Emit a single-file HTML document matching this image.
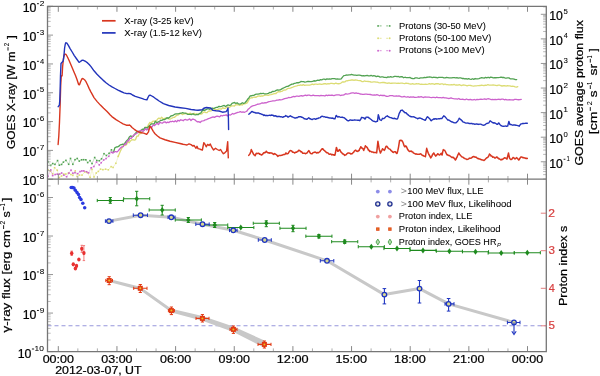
<!DOCTYPE html><html><head><meta charset="utf-8"><style>html,body{margin:0;padding:0;background:#fff;overflow:hidden}svg{display:block;filter:blur(0.35px)}text{font-family:"Liberation Sans",sans-serif}</style></head><body><svg width="600" height="376" viewBox="0 0 600 376" font-family="Liberation Sans, sans-serif">
<rect width="600" height="376" fill="#fff"/>
<defs><clipPath id="cT"><rect x="47.5" y="6.3" width="498.8" height="172.9"/></clipPath><clipPath id="cB"><rect x="47.5" y="179.2" width="498.8" height="172.4"/></clipPath></defs>
<g clip-path="url(#cT)">
<polyline points="48.00,169.89 50.34,171.24 52.75,173.83 54.61,167.73 57.25,170.22 59.29,177.61 61.56,176.05 63.83,174.11 65.78,174.09 68.45,173.01 70.99,174.53 72.86,175.42 75.25,170.88 77.08,176.55 79.35,175.11 82.03,175.10 84.75,171.95 87.35,172.68 90.09,177.26 91.98,169.26 94.00,176.95 96.24,173.02 98.34,171.40 100.52,169.12 102.91,169.66 105.61,169.17 108.34,169.83 111.13,166.65 113.10,167.44 115.86,163.28 118.23,156.37" fill="none" stroke="#dcdc74" stroke-width="0.6" stroke-linejoin="round" stroke-linecap="round" stroke-dasharray="1.4 1.0" opacity="0.6"/>
<rect x="47.20" y="169.09" width="1.6" height="1.6" fill="#dcdc74"/>
<rect x="49.54" y="170.44" width="1.6" height="1.6" fill="#dcdc74"/>
<rect x="51.95" y="173.03" width="1.6" height="1.6" fill="#dcdc74"/>
<rect x="53.81" y="166.93" width="1.6" height="1.6" fill="#dcdc74"/>
<rect x="56.45" y="169.42" width="1.6" height="1.6" fill="#dcdc74"/>
<rect x="58.49" y="176.81" width="1.6" height="1.6" fill="#dcdc74"/>
<rect x="60.76" y="175.25" width="1.6" height="1.6" fill="#dcdc74"/>
<rect x="63.03" y="173.31" width="1.6" height="1.6" fill="#dcdc74"/>
<rect x="64.98" y="173.29" width="1.6" height="1.6" fill="#dcdc74"/>
<rect x="67.65" y="172.21" width="1.6" height="1.6" fill="#dcdc74"/>
<rect x="70.19" y="173.73" width="1.6" height="1.6" fill="#dcdc74"/>
<rect x="72.06" y="174.62" width="1.6" height="1.6" fill="#dcdc74"/>
<rect x="74.45" y="170.08" width="1.6" height="1.6" fill="#dcdc74"/>
<rect x="76.28" y="175.75" width="1.6" height="1.6" fill="#dcdc74"/>
<rect x="78.55" y="174.31" width="1.6" height="1.6" fill="#dcdc74"/>
<rect x="81.23" y="174.30" width="1.6" height="1.6" fill="#dcdc74"/>
<rect x="83.95" y="171.15" width="1.6" height="1.6" fill="#dcdc74"/>
<rect x="86.55" y="171.88" width="1.6" height="1.6" fill="#dcdc74"/>
<rect x="89.29" y="176.46" width="1.6" height="1.6" fill="#dcdc74"/>
<rect x="91.18" y="168.46" width="1.6" height="1.6" fill="#dcdc74"/>
<rect x="93.20" y="176.15" width="1.6" height="1.6" fill="#dcdc74"/>
<rect x="95.44" y="172.22" width="1.6" height="1.6" fill="#dcdc74"/>
<rect x="97.54" y="170.60" width="1.6" height="1.6" fill="#dcdc74"/>
<rect x="99.72" y="168.32" width="1.6" height="1.6" fill="#dcdc74"/>
<rect x="102.11" y="168.86" width="1.6" height="1.6" fill="#dcdc74"/>
<rect x="104.81" y="168.37" width="1.6" height="1.6" fill="#dcdc74"/>
<rect x="107.54" y="169.03" width="1.6" height="1.6" fill="#dcdc74"/>
<rect x="110.33" y="165.85" width="1.6" height="1.6" fill="#dcdc74"/>
<rect x="112.30" y="166.64" width="1.6" height="1.6" fill="#dcdc74"/>
<rect x="115.06" y="162.48" width="1.6" height="1.6" fill="#dcdc74"/>
<rect x="117.43" y="155.57" width="1.6" height="1.6" fill="#dcdc74"/>
<polyline points="118.23,156.37 120.00,151.99 121.30,149.33 122.60,146.60 123.90,144.58 125.20,145.51 126.50,144.75 127.80,141.45 129.10,142.70 130.40,141.09 131.70,139.81 133.00,139.59 134.30,140.22 135.60,139.55 136.90,136.04 138.20,136.17 139.50,133.34 140.80,133.61 142.10,131.04 143.40,130.91 144.70,129.61 146.00,127.11 147.30,127.23 148.60,124.27 149.90,122.49 151.20,123.28 152.50,121.28 153.80,121.19 155.10,121.11 156.40,120.88 157.70,118.94 159.00,117.89 160.30,118.91 161.60,117.26 162.90,118.45 164.20,118.59 165.50,117.99 166.80,118.36 168.10,118.69 169.40,119.12 170.70,118.79 172.00,118.05 173.30,117.48 174.60,117.31 175.90,115.94 177.20,115.15 178.50,114.93 179.80,113.48 181.10,113.49 182.40,114.59 183.70,113.87 185.00,113.93 186.30,113.08 187.60,113.74 188.90,114.02 190.20,113.13 191.50,114.10 192.80,114.14 194.10,113.24 195.40,114.16 196.70,113.91 198.00,114.27 199.30,113.76 200.60,114.15 201.90,113.81 203.20,112.28 204.50,111.95 205.80,112.54 207.10,112.61 208.40,111.08 209.70,111.02 211.00,110.95 212.30,110.25 213.60,110.06 214.90,109.72 216.20,109.55 217.50,109.65 218.80,108.92 220.10,108.78 221.40,109.16 222.70,107.70 224.00,108.31 225.30,108.32 226.60,107.38 227.90,106.98 229.20,107.65 230.50,106.43 231.80,105.96 233.10,105.97 234.40,106.00 235.70,104.76 237.00,104.92 238.30,104.74 239.60,105.34 240.90,104.52 242.20,104.99 243.50,103.70 244.80,103.77 246.10,103.42 247.40,102.58 248.70,100.16 250.00,98.25 251.30,97.77 252.60,97.75 253.90,97.05 255.20,97.24 256.50,97.00 257.80,96.16 259.10,95.98 260.40,96.24 261.70,95.96 263.00,95.98 264.30,95.43 265.60,95.11 266.90,95.12 268.20,95.44 269.50,94.84 270.80,94.62 272.10,94.30 273.40,93.91 274.70,93.51 276.00,93.48 277.30,92.27 278.60,91.61 279.90,91.94 281.20,91.40 282.50,91.01 283.80,90.03 285.10,90.02 286.40,89.52 287.70,88.40 289.00,88.39 290.30,88.03 291.60,87.53 292.90,87.06 294.20,86.52 295.50,86.23 296.80,85.79 298.10,85.31 299.40,85.44 300.70,84.97 302.00,85.38 303.30,84.63 304.60,85.33 305.90,85.08 307.20,85.22 308.50,85.13 309.80,85.07 311.10,84.70 312.40,84.12 313.70,84.70 315.00,84.10 316.30,84.14 317.60,84.39 318.90,84.19 320.20,84.01 321.50,84.42 322.80,84.06 324.10,83.75 325.40,83.61 326.70,84.09 328.00,83.68 329.30,83.89 330.60,83.45 331.90,83.27 333.20,83.54 334.50,83.75 335.80,83.13 337.10,83.65 338.40,83.73 339.70,83.58 341.00,83.16 342.30,81.86 343.60,81.98 344.90,81.89 346.20,80.86 347.50,80.77 348.80,80.47 350.10,80.40 351.40,79.98 352.70,79.97 354.00,80.42 355.30,79.91 356.60,80.13 357.90,80.38 359.20,80.55 360.50,80.65 361.80,81.57 363.10,81.57 364.40,80.98 365.70,81.46 367.00,81.39 368.30,81.50 369.60,81.63 370.90,82.00 372.20,82.05 373.50,81.95 374.80,81.91 376.10,82.13 377.40,82.05 378.70,82.55 380.00,82.79 381.30,82.56 382.60,82.35 383.90,82.51 385.20,82.75 386.50,83.02 387.80,83.24 389.10,82.95 390.40,83.38 391.70,83.23 393.00,83.07 394.30,83.03 395.60,83.15 396.90,83.35 398.20,83.11 399.50,83.37 400.80,83.20 402.10,83.07 403.40,83.39 404.70,83.59 406.00,83.08 407.30,83.46 408.60,83.52 409.90,83.99 411.20,84.10 412.50,83.65 413.80,84.18 415.10,84.14 416.40,83.72 417.70,83.96 419.00,83.72 420.30,84.38 421.60,84.25 422.90,84.45 424.20,84.36 425.50,84.25 426.80,84.31 428.10,84.16 429.40,83.74 430.70,84.18 432.00,83.65 433.30,83.78 434.60,84.35 435.90,83.69 437.20,83.73 438.50,83.74 439.80,84.44 441.10,83.86 442.40,83.78 443.70,84.57 445.00,83.98 446.30,84.69 447.60,84.60 448.90,84.80 450.20,84.97 451.50,84.69 452.80,84.94 454.10,84.32 455.40,85.03 456.70,84.86 458.00,85.10 459.30,84.61 460.60,85.26 461.90,85.52 463.20,84.82 464.50,85.14 465.80,85.44 467.10,85.77 468.40,85.33 469.70,85.36 471.00,85.51 472.30,85.92 473.60,86.13 474.90,85.90 476.20,85.78 477.50,85.71 478.80,85.56 480.10,85.52 481.40,85.11 482.70,85.38 484.00,85.71 485.30,85.10 486.60,85.29 487.90,84.66 489.20,85.04 490.50,85.06 491.80,85.08 493.10,85.02 494.40,85.08 495.70,85.31 497.00,85.62 498.30,85.04 499.60,85.08 500.90,85.75 502.20,85.99 503.50,85.72 504.80,85.74 506.10,86.09 507.40,85.71 508.70,85.89 510.00,85.93 511.30,86.39 512.60,86.25 513.90,86.28 515.20,86.80 516.50,87.14 517.80,86.65" fill="none" stroke="#dcdc74" stroke-width="1.3" stroke-linejoin="round" stroke-linecap="round" />
<polyline points="48.00,161.62 50.65,165.44 52.70,163.55 54.95,164.37 57.54,160.60 59.37,165.20 61.60,164.44 63.40,162.14 65.93,160.38 68.67,164.27 70.50,158.46 72.84,164.31 75.02,159.69 77.25,158.49 79.27,161.10 81.56,159.79 83.59,159.70 85.85,159.80 87.68,162.56 90.03,160.66 92.02,163.58 94.68,157.53 96.81,160.53 99.32,160.73 101.54,158.85 104.01,153.70 106.40,155.48 109.05,153.34 111.44,149.85 113.48,152.19" fill="none" stroke="#52a252" stroke-width="0.6" stroke-linejoin="round" stroke-linecap="round" stroke-dasharray="1.4 1.0" opacity="0.6"/>
<rect x="47.20" y="160.82" width="1.6" height="1.6" fill="#52a252"/>
<rect x="49.85" y="164.64" width="1.6" height="1.6" fill="#52a252"/>
<rect x="51.90" y="162.75" width="1.6" height="1.6" fill="#52a252"/>
<rect x="54.15" y="163.57" width="1.6" height="1.6" fill="#52a252"/>
<rect x="56.74" y="159.80" width="1.6" height="1.6" fill="#52a252"/>
<rect x="58.57" y="164.40" width="1.6" height="1.6" fill="#52a252"/>
<rect x="60.80" y="163.64" width="1.6" height="1.6" fill="#52a252"/>
<rect x="62.60" y="161.34" width="1.6" height="1.6" fill="#52a252"/>
<rect x="65.13" y="159.58" width="1.6" height="1.6" fill="#52a252"/>
<rect x="67.87" y="163.47" width="1.6" height="1.6" fill="#52a252"/>
<rect x="69.70" y="157.66" width="1.6" height="1.6" fill="#52a252"/>
<rect x="72.04" y="163.51" width="1.6" height="1.6" fill="#52a252"/>
<rect x="74.22" y="158.89" width="1.6" height="1.6" fill="#52a252"/>
<rect x="76.45" y="157.69" width="1.6" height="1.6" fill="#52a252"/>
<rect x="78.47" y="160.30" width="1.6" height="1.6" fill="#52a252"/>
<rect x="80.76" y="158.99" width="1.6" height="1.6" fill="#52a252"/>
<rect x="82.79" y="158.90" width="1.6" height="1.6" fill="#52a252"/>
<rect x="85.05" y="159.00" width="1.6" height="1.6" fill="#52a252"/>
<rect x="86.88" y="161.76" width="1.6" height="1.6" fill="#52a252"/>
<rect x="89.23" y="159.86" width="1.6" height="1.6" fill="#52a252"/>
<rect x="91.22" y="162.78" width="1.6" height="1.6" fill="#52a252"/>
<rect x="93.88" y="156.73" width="1.6" height="1.6" fill="#52a252"/>
<rect x="96.01" y="159.73" width="1.6" height="1.6" fill="#52a252"/>
<rect x="98.52" y="159.93" width="1.6" height="1.6" fill="#52a252"/>
<rect x="100.74" y="158.05" width="1.6" height="1.6" fill="#52a252"/>
<rect x="103.21" y="152.90" width="1.6" height="1.6" fill="#52a252"/>
<rect x="105.60" y="154.68" width="1.6" height="1.6" fill="#52a252"/>
<rect x="108.25" y="152.54" width="1.6" height="1.6" fill="#52a252"/>
<rect x="110.64" y="149.05" width="1.6" height="1.6" fill="#52a252"/>
<rect x="112.68" y="151.39" width="1.6" height="1.6" fill="#52a252"/>
<polyline points="113.48,152.19 115.00,147.54 116.30,146.98 117.60,146.82 118.90,146.19 120.20,144.86 121.50,144.55 122.80,144.24 124.10,144.46 125.40,142.43 126.70,140.66 128.00,139.47 129.30,137.08 130.60,135.92 131.90,136.49 133.20,136.33 134.50,134.42 135.80,133.00 137.10,131.53 138.40,131.50 139.70,131.85 141.00,130.41 142.30,129.23 143.60,129.57 144.90,127.45 146.20,127.67 147.50,128.00 148.80,126.21 150.10,125.09 151.40,123.85 152.70,123.92 154.00,124.34 155.30,121.21 156.60,122.61 157.90,122.08 159.20,121.63 160.50,120.38 161.80,120.32 163.10,119.68 164.40,119.58 165.70,118.93 167.00,117.69 168.30,118.34 169.60,117.21 170.90,115.95 172.20,115.76 173.50,115.06 174.80,114.17 176.10,113.81 177.40,113.83 178.70,113.68 180.00,113.38 181.30,113.22 182.60,112.62 183.90,113.03 185.20,113.03 186.50,113.77 187.80,114.30 189.10,114.28 190.40,114.37 191.70,114.49 193.00,113.68 194.30,114.70 195.60,114.78 196.90,114.48 198.20,114.71 199.50,113.33 200.80,113.14 202.10,110.95 203.40,109.71 204.70,110.31 206.00,109.64 207.30,108.97 208.60,108.90 209.90,109.26 211.20,108.38 212.50,108.24 213.80,108.63 215.10,107.90 216.40,107.38 217.70,107.31 219.00,106.28 220.30,106.56 221.60,106.39 222.90,105.78 224.20,105.42 225.50,106.45 226.80,105.59 228.10,104.88 229.40,105.28 230.70,105.21 232.00,103.39 233.30,102.84 234.60,102.50 235.90,103.43 237.20,102.80 238.50,103.93 239.80,104.15 241.10,103.62 242.40,102.68 243.70,103.48 245.00,102.78 246.30,101.29 247.60,99.30 248.90,97.94 250.20,95.87 251.50,95.77 252.80,95.28 254.10,95.24 255.40,94.36 256.70,94.10 258.00,94.22 259.30,93.98 260.60,93.30 261.90,93.64 263.20,93.25 264.50,93.95 265.80,93.87 267.10,93.66 268.40,93.38 269.70,92.51 271.00,92.70 272.30,91.37 273.60,91.50 274.90,91.06 276.20,90.42 277.50,89.80 278.80,90.17 280.10,89.98 281.40,89.17 282.70,88.42 284.00,87.73 285.30,87.14 286.60,86.46 287.90,86.34 289.20,85.58 290.50,84.81 291.80,84.19 293.10,84.15 294.40,83.27 295.70,83.03 297.00,82.56 298.30,82.74 299.60,82.46 300.90,81.52 302.20,81.62 303.50,81.67 304.80,82.20 306.10,81.95 307.40,81.49 308.70,81.31 310.00,81.66 311.30,81.60 312.60,81.47 313.90,80.74 315.20,81.01 316.50,80.63 317.80,80.24 319.10,80.48 320.40,79.62 321.70,79.92 323.00,79.20 324.30,79.13 325.60,79.65 326.90,78.88 328.20,79.23 329.50,78.95 330.80,79.11 332.10,78.68 333.40,78.66 334.70,78.61 336.00,79.13 337.30,78.89 338.60,79.21 339.90,79.15 341.20,78.93 342.50,77.10 343.80,75.68 345.10,75.37 346.40,75.02 347.70,75.08 349.00,74.86 350.30,74.90 351.60,74.46 352.90,74.85 354.20,75.22 355.50,75.04 356.80,75.34 358.10,75.16 359.40,75.16 360.70,75.39 362.00,75.95 363.30,75.66 364.60,75.98 365.90,75.56 367.20,75.40 368.50,75.86 369.80,75.89 371.10,75.29 372.40,76.04 373.70,75.68 375.00,75.85 376.30,76.68 377.60,76.05 378.90,76.36 380.20,77.18 381.50,76.96 382.80,76.97 384.10,77.30 385.40,77.48 386.70,77.65 388.00,76.78 389.30,77.22 390.60,76.57 391.90,77.05 393.20,76.94 394.50,76.33 395.80,76.36 397.10,76.69 398.40,76.48 399.70,77.11 401.00,76.67 402.30,76.76 403.60,77.75 404.90,77.24 406.20,77.62 407.50,77.60 408.80,77.59 410.10,77.48 411.40,78.36 412.70,78.52 414.00,78.64 415.30,77.93 416.60,77.93 417.90,78.19 419.20,78.42 420.50,77.94 421.80,77.97 423.10,77.85 424.40,77.39 425.70,77.55 427.00,77.25 428.30,77.10 429.60,76.85 430.90,77.03 432.20,77.69 433.50,77.25 434.80,77.46 436.10,77.49 437.40,77.79 438.70,77.33 440.00,77.29 441.30,77.35 442.60,77.37 443.90,77.88 445.20,77.96 446.50,77.48 447.80,77.56 449.10,77.80 450.40,77.89 451.70,77.95 453.00,77.69 454.30,77.54 455.60,77.79 456.90,77.69 458.20,78.17 459.50,77.79 460.80,77.88 462.10,78.50 463.40,78.30 464.70,78.85 466.00,78.69 467.30,79.13 468.60,78.61 469.90,79.03 471.20,79.40 472.50,78.76 473.80,79.38 475.10,78.52 476.40,78.91 477.70,78.93 479.00,78.63 480.30,78.02 481.60,77.66 482.90,77.87 484.20,78.08 485.50,77.40 486.80,77.92 488.10,77.22 489.40,77.88 490.70,77.06 492.00,77.29 493.30,77.80 494.60,77.68 495.90,77.75 497.20,77.66 498.50,77.55 499.80,77.47 501.10,77.13 502.40,77.50 503.70,77.40 505.00,78.04 506.30,78.14 507.60,77.91 508.90,77.89 510.20,78.85 511.50,78.94 512.80,78.94 514.10,79.16 515.40,79.67 516.70,79.54" fill="none" stroke="#52a252" stroke-width="1.3" stroke-linejoin="round" stroke-linecap="round" />
<polyline points="48.00,176.30 50.75,169.94 52.63,175.62 55.17,174.53 57.28,174.15 59.68,174.07 61.64,173.00 63.84,175.11 66.63,176.74 68.97,173.10 71.04,170.16 72.87,173.25 74.99,172.64 77.68,173.69 80.04,171.57 81.86,170.94 83.80,170.91 86.60,171.74 88.58,172.86 91.18,167.82 93.89,166.48 96.48,162.08 99.26,164.88 101.22,162.74 103.73,159.99 106.06,158.56 108.79,156.31 111.42,152.23" fill="none" stroke="#cc62cc" stroke-width="0.6" stroke-linejoin="round" stroke-linecap="round" stroke-dasharray="1.4 1.0" opacity="0.6"/>
<rect x="47.20" y="175.50" width="1.6" height="1.6" fill="#cc62cc"/>
<rect x="49.95" y="169.14" width="1.6" height="1.6" fill="#cc62cc"/>
<rect x="51.83" y="174.82" width="1.6" height="1.6" fill="#cc62cc"/>
<rect x="54.37" y="173.73" width="1.6" height="1.6" fill="#cc62cc"/>
<rect x="56.48" y="173.35" width="1.6" height="1.6" fill="#cc62cc"/>
<rect x="58.88" y="173.27" width="1.6" height="1.6" fill="#cc62cc"/>
<rect x="60.84" y="172.20" width="1.6" height="1.6" fill="#cc62cc"/>
<rect x="63.04" y="174.31" width="1.6" height="1.6" fill="#cc62cc"/>
<rect x="65.83" y="175.94" width="1.6" height="1.6" fill="#cc62cc"/>
<rect x="68.17" y="172.30" width="1.6" height="1.6" fill="#cc62cc"/>
<rect x="70.24" y="169.36" width="1.6" height="1.6" fill="#cc62cc"/>
<rect x="72.07" y="172.45" width="1.6" height="1.6" fill="#cc62cc"/>
<rect x="74.19" y="171.84" width="1.6" height="1.6" fill="#cc62cc"/>
<rect x="76.88" y="172.89" width="1.6" height="1.6" fill="#cc62cc"/>
<rect x="79.24" y="170.77" width="1.6" height="1.6" fill="#cc62cc"/>
<rect x="81.06" y="170.14" width="1.6" height="1.6" fill="#cc62cc"/>
<rect x="83.00" y="170.11" width="1.6" height="1.6" fill="#cc62cc"/>
<rect x="85.80" y="170.94" width="1.6" height="1.6" fill="#cc62cc"/>
<rect x="87.78" y="172.06" width="1.6" height="1.6" fill="#cc62cc"/>
<rect x="90.38" y="167.02" width="1.6" height="1.6" fill="#cc62cc"/>
<rect x="93.09" y="165.68" width="1.6" height="1.6" fill="#cc62cc"/>
<rect x="95.68" y="161.28" width="1.6" height="1.6" fill="#cc62cc"/>
<rect x="98.46" y="164.08" width="1.6" height="1.6" fill="#cc62cc"/>
<rect x="100.42" y="161.94" width="1.6" height="1.6" fill="#cc62cc"/>
<rect x="102.93" y="159.19" width="1.6" height="1.6" fill="#cc62cc"/>
<rect x="105.26" y="157.76" width="1.6" height="1.6" fill="#cc62cc"/>
<rect x="107.99" y="155.51" width="1.6" height="1.6" fill="#cc62cc"/>
<rect x="110.62" y="151.43" width="1.6" height="1.6" fill="#cc62cc"/>
<polyline points="111.42,152.23 113.00,153.12 114.30,151.67 115.60,151.53 116.90,152.00 118.20,150.88 119.50,149.27 120.80,147.59 122.10,146.85 123.40,146.56 124.70,143.92 126.00,144.27 127.30,140.85 128.60,140.95 129.90,138.05 131.20,138.40 132.50,136.64 133.80,135.14 135.10,134.20 136.40,133.57 137.70,132.73 139.00,131.36 140.30,130.44 141.60,130.66 142.90,131.43 144.20,130.30 145.50,128.55 146.80,129.98 148.10,129.09 149.40,128.91 150.70,126.40 152.00,127.19 153.30,124.75 154.60,125.65 155.90,124.04 157.20,123.43 158.50,124.63 159.80,122.14 161.10,122.86 162.40,123.21 163.70,122.07 165.00,121.84 166.30,122.88 167.60,122.12 168.90,122.57 170.20,121.42 171.50,121.74 172.80,121.23 174.10,121.82 175.40,120.67 176.70,121.86 178.00,120.16 179.30,121.08 180.60,119.77 181.90,120.02 183.20,120.78 184.50,119.60 185.80,119.51 187.10,120.20 188.40,119.58 189.70,118.90 191.00,120.48 192.30,119.27 193.60,119.22 194.90,119.84 196.20,120.96 197.50,121.89 198.80,121.61 200.10,122.57 201.40,121.20 202.70,120.98 204.00,120.61 205.30,119.77 206.60,119.54 207.90,118.81 209.20,118.48 210.50,117.87 211.80,117.34 213.10,116.79 214.40,117.33 215.70,116.59 217.00,116.04 218.30,116.39 219.60,116.86 220.90,115.46 222.20,115.98 223.50,115.47 224.80,115.46 226.10,114.74 227.40,115.94 228.70,114.72 230.00,115.17 231.30,114.51 232.60,113.51 233.90,114.02 235.20,113.36 236.50,112.81 237.80,112.36 239.10,112.15 240.40,111.67 241.70,112.28 243.00,111.81 244.30,112.31 245.60,111.77 246.90,111.18 248.20,109.16 249.50,108.14 250.80,106.84 252.10,106.15 253.40,105.70 254.70,105.38 256.00,104.97 257.30,104.27 258.60,104.14 259.90,103.95 261.20,103.21 262.50,102.98 263.80,103.06 265.10,102.53 266.40,102.79 267.70,102.07 269.00,101.66 270.30,101.45 271.60,101.21 272.90,100.91 274.20,100.89 275.50,100.57 276.80,100.17 278.10,100.21 279.40,99.56 280.70,99.91 282.00,99.68 283.30,99.18 284.60,98.63 285.90,98.43 287.20,98.23 288.50,97.50 289.80,97.57 291.10,97.38 292.40,96.79 293.70,96.42 295.00,96.77 296.30,96.22 297.60,96.21 298.90,96.41 300.20,95.99 301.50,95.62 302.80,96.17 304.10,95.54 305.40,95.14 306.70,95.66 308.00,95.06 309.30,95.17 310.60,95.64 311.90,95.57 313.20,95.06 314.50,95.53 315.80,95.57 317.10,95.71 318.40,95.54 319.70,95.96 321.00,95.46 322.30,95.57 323.60,95.57 324.90,96.00 326.20,95.15 327.50,95.68 328.80,95.10 330.10,95.36 331.40,95.20 332.70,95.27 334.00,95.53 335.30,95.21 336.60,94.96 337.90,94.96 339.20,94.92 340.50,95.52 341.80,95.07 343.10,95.09 344.40,94.59 345.70,93.73 347.00,94.04 348.30,93.89 349.60,93.58 350.90,93.12 352.20,92.78 353.50,92.95 354.80,93.34 356.10,92.94 357.40,93.28 358.70,93.41 360.00,94.02 361.30,94.07 362.60,94.36 363.90,94.45 365.20,94.13 366.50,94.13 367.80,94.43 369.10,94.29 370.40,94.50 371.70,94.80 373.00,95.08 374.30,94.84 375.60,95.15 376.90,94.65 378.20,95.02 379.50,95.74 380.80,95.12 382.10,95.51 383.40,95.33 384.70,95.49 386.00,96.26 387.30,96.34 388.60,96.03 389.90,95.57 391.20,95.72 392.50,95.66 393.80,96.05 395.10,96.07 396.40,95.98 397.70,96.19 399.00,95.95 400.30,96.47 401.60,96.96 402.90,96.92 404.20,96.46 405.50,96.92 406.80,97.12 408.10,96.72 409.40,97.31 410.70,96.94 412.00,97.18 413.30,96.92 414.60,97.47 415.90,97.30 417.20,97.13 418.50,96.76 419.80,97.04 421.10,96.69 422.40,97.22 423.70,97.50 425.00,96.89 426.30,97.20 427.60,97.20 428.90,97.15 430.20,97.44 431.50,97.67 432.80,97.48 434.10,97.29 435.40,97.75 436.70,97.20 438.00,97.59 439.30,97.53 440.60,97.68 441.90,97.87 443.20,97.41 444.50,97.87 445.80,97.78 447.10,98.12 448.40,98.50 449.70,98.30 451.00,97.84 452.30,98.35 453.60,98.68 454.90,98.94 456.20,98.83 457.50,99.08 458.80,98.47 460.10,99.40 461.40,99.28 462.70,99.24 464.00,99.58 465.30,99.63 466.60,98.99 467.90,99.71 469.20,99.73 470.50,99.29 471.80,99.85 473.10,99.78 474.40,99.49 475.70,100.02 477.00,99.33 478.30,99.67 479.60,99.42 480.90,99.17 482.20,99.36 483.50,99.18 484.80,98.85 486.10,99.55 487.40,98.78 488.70,98.75 490.00,99.22 491.30,99.57 492.60,99.45 493.90,99.57 495.20,99.36 496.50,99.56 497.80,99.29 499.10,99.27 500.40,99.51 501.70,99.10 503.00,99.16 504.30,99.79 505.60,99.29 506.90,99.82 508.20,99.87 509.50,99.55 510.80,99.81 512.10,99.93 513.40,100.02 514.70,99.38 516.00,99.42 517.30,99.64 518.60,99.73 519.90,99.60 521.20,99.36" fill="none" stroke="#cc62cc" stroke-width="1.3" stroke-linejoin="round" stroke-linecap="round" />
<polyline points="58.10,144.50 58.80,136.00 59.50,122.00 60.10,106.00 60.70,86.00 61.20,77.00 61.70,75.50 62.10,75.80 62.60,67.00 63.20,61.00 63.70,57.00 64.40,54.60 65.00,54.20 65.70,54.30 66.40,55.00 67.70,57.50 69.00,60.30 70.60,64.00 72.20,67.80 74.30,72.70 75.40,75.20 77.00,79.50 78.60,84.50 79.50,84.80 80.50,82.00 81.80,79.00 82.90,78.50 84.50,79.70 86.00,81.70 87.60,85.00 89.20,88.60 91.00,92.10 92.80,95.40 94.00,97.60 97.20,101.60 100.40,105.10 103.60,108.30 106.80,111.30 108.70,113.30 110.00,114.80 111.90,116.60 116.00,119.60 119.90,122.00 123.00,123.80 126.30,125.20 128.50,125.30 129.50,125.00 130.50,125.80 132.00,127.50 134.30,129.30 136.50,130.80 139.00,132.00 141.50,132.80 143.70,133.10 146.70,134.30 148.50,131.90 149.70,126.50 150.90,127.10 153.30,131.30 155.00,133.75 157.50,136.00 160.00,137.90 165.00,139.75 170.00,141.25 175.00,142.40 180.00,143.50 183.00,144.25 185.00,144.60 187.00,145.00 189.00,143.90 191.00,144.60 193.00,146.10 194.00,145.40 195.00,146.90 196.00,148.20 197.00,146.30 198.00,148.60 200.00,149.10 200.60,149.50 202.40,150.00 203.80,142.60 204.80,144.00 206.20,146.80 207.60,144.40 209.00,145.40 210.30,144.00 211.70,147.20 213.60,150.00 215.50,148.20 217.30,149.50 219.20,150.50 220.60,149.50 222.00,151.90 223.40,153.70 224.80,152.80 226.60,150.90 227.70,141.60 228.30,157.90" fill="none" stroke="#d8361f" stroke-width="1.4" stroke-linejoin="round" stroke-linecap="round" />
<polyline points="248.75,155.35 248.75,155.40 249.75,154.14 250.00,153.75 250.75,151.68 251.25,149.60 251.75,150.57 252.50,152.10 252.75,152.61 253.75,154.69 253.75,154.60 254.75,155.24 255.00,155.80 255.75,154.31 256.25,153.30 256.75,153.43 257.75,153.59 257.90,153.30 258.75,153.34 259.60,154.20 259.75,154.08 260.75,154.35 261.25,155.00 261.75,154.93 262.75,154.06 262.90,153.75 263.75,152.67 264.60,152.50 264.75,152.87 265.75,152.09 266.25,151.25 266.75,151.90 267.50,152.50 267.75,152.73 268.75,152.75 269.20,153.30 269.75,152.68 270.75,152.94 270.80,152.90 271.75,152.93 272.50,153.75 272.75,153.61 273.75,154.34 273.75,154.60 274.75,153.45 275.00,153.75 275.75,154.27 276.70,155.00 276.75,154.99 277.75,156.44 277.90,156.25 278.75,155.71 279.20,155.40 279.75,155.54 280.75,155.40 280.80,155.40 281.75,155.34 282.50,155.00 282.75,154.90 283.75,154.48 284.20,154.60 284.75,154.51 285.75,153.45 285.80,152.90 286.75,153.86 287.10,153.75 287.75,153.71 288.30,153.30 288.75,152.32 289.20,151.70 289.75,150.93 290.40,150.60 290.75,150.59 291.75,150.96 292.10,151.60 292.75,152.18 293.75,152.29 294.60,152.80 294.75,153.07 295.75,152.13 296.75,152.23 297.10,151.60 297.75,151.61 298.75,150.24 299.20,150.50 299.75,150.50 300.75,151.74 301.25,151.60 301.75,151.97 302.75,153.29 303.30,153.25 303.75,153.24 304.75,153.13 305.40,153.70 305.75,153.61 306.75,153.14 307.50,152.40 307.75,151.89 308.75,150.61 309.00,150.75 309.75,152.12 310.00,152.80 310.75,153.59 311.75,153.81 312.10,153.70 312.75,152.92 313.75,152.42 314.20,152.40 314.75,152.11 315.75,152.26 316.25,152.80 316.75,153.10 317.75,152.48 318.30,152.80 318.75,152.54 319.75,151.72 320.00,151.60 320.75,150.25 321.75,149.42 322.10,148.70 322.75,148.76 323.30,149.50 323.75,150.09 324.75,150.57 325.00,151.20 325.75,151.83 326.70,152.80 326.75,152.53 327.75,152.87 328.30,153.25 328.75,153.95 329.75,154.28 330.00,154.10 330.75,154.08 331.70,154.50 331.75,154.90 332.75,154.47 333.30,154.90 333.75,154.79 334.75,155.25 335.00,154.90 335.75,151.02 336.40,147.40 336.75,148.21 337.30,150.50 337.75,151.30 338.30,151.20 338.75,150.36 339.60,149.60 339.75,149.62 340.75,151.89 340.80,151.70 341.75,152.67 342.50,153.75 342.75,153.74 343.75,154.31 344.60,155.40 344.75,154.92 345.75,154.93 346.25,154.60 346.75,153.83 347.75,153.16 347.90,152.90 348.75,152.93 349.75,153.21 350.00,153.30 350.75,153.92 351.75,153.66 352.10,153.75 352.75,153.05 353.75,152.15 354.20,151.25 354.75,150.64 355.75,150.08 355.80,150.40 356.75,151.28 357.50,151.25 357.75,151.44 358.75,150.37 359.20,150.40 359.75,148.82 360.75,147.06 360.80,146.70 361.75,148.03 362.50,148.30 362.75,148.34 363.75,150.45 363.75,150.00 364.75,147.84 365.40,145.80 365.75,146.25 366.75,147.07 367.10,147.50 367.75,148.46 368.30,150.00 368.75,149.87 369.75,151.53 370.00,151.25 370.75,151.24 371.75,152.05 372.50,152.10 372.75,151.90 373.75,152.62 374.75,152.56 375.00,152.50 375.75,152.47 376.70,152.90 376.75,152.09 377.75,142.93 377.90,141.25 378.75,146.02 379.20,149.20 379.75,150.72 380.40,153.10 380.75,152.40 381.25,151.25 381.75,150.60 382.50,148.75 382.75,149.11 383.75,149.74 384.20,150.40 384.75,149.70 385.75,146.97 386.25,146.25 386.75,146.27 387.75,147.52 388.30,148.30 388.75,148.62 389.75,149.08 390.75,150.03 390.80,150.40 391.75,151.07 392.75,152.11 393.30,152.50 393.75,151.96 394.75,151.81 395.40,151.70 395.75,152.42 396.75,153.45 397.10,153.30 397.75,150.75 398.30,148.30 398.75,145.76 399.60,140.40 399.75,140.51 400.75,140.26 401.70,140.80 401.75,140.41 402.75,141.96 403.30,143.30 403.75,144.89 404.60,146.70 404.75,146.79 405.75,146.30 405.80,145.80 406.75,147.22 407.50,149.20 407.75,149.64 408.75,150.69 409.20,151.25 409.75,151.48 410.75,151.07 411.70,151.25 411.75,151.80 412.75,151.91 413.30,152.90 413.75,153.10 414.75,153.63 415.75,154.13 415.80,153.75 416.75,154.16 417.75,154.30 418.30,154.20 418.75,154.37 419.75,154.23 420.00,153.75 420.75,153.98 421.70,154.60 421.75,154.81 422.75,155.53 423.30,155.40 423.75,156.05 424.75,156.21 425.40,156.70 425.75,154.73 426.70,148.30 426.75,148.82 427.75,151.65 428.30,153.30 428.75,154.25 429.75,155.85 430.75,157.89 430.80,157.90 431.75,156.40 432.75,154.18 433.75,153.04 433.75,152.90 434.75,154.81 435.75,156.11 435.80,155.80 436.75,155.10 437.75,153.78 437.90,153.75 438.75,154.61 439.60,155.00 439.75,154.93 440.75,153.76 441.25,153.30 441.75,154.64 442.10,155.00 442.75,151.66 443.30,149.60 443.75,150.17 444.75,150.15 445.00,150.80 445.75,152.40 446.75,154.28 447.10,155.00 447.75,154.85 448.75,155.51 449.20,155.40 449.75,155.77 450.75,156.57 451.70,157.10 451.75,157.54 452.75,157.27 453.75,157.41 453.75,157.90 454.75,158.97 455.40,160.00 455.75,159.58 456.75,157.40 457.10,157.10 457.75,155.12 458.75,153.31 458.75,152.90 459.75,154.58 460.40,155.40 460.75,155.63 461.75,156.88 462.50,157.10 462.75,157.09 463.75,158.09 464.75,158.28 465.00,158.75 465.75,158.88 466.70,159.20 466.75,159.49 467.75,159.24 468.75,158.84 469.20,158.30 469.75,158.10 470.75,158.14 471.70,157.90 471.75,157.68 472.75,156.82 473.75,156.50 473.75,156.50 474.75,157.06 475.75,157.29 476.00,157.00 476.75,157.71 477.75,158.62 478.75,158.61 479.00,159.00 479.75,158.92 480.75,159.53 481.75,159.69 482.00,160.00 482.75,159.90 483.75,160.35 484.00,160.50 484.75,159.88 485.75,158.74 486.00,158.50 486.75,157.75 487.75,157.53 488.00,157.00 488.75,155.98 489.50,154.00 489.75,154.29 490.75,155.24 491.00,156.00 491.75,155.91 492.75,157.25 493.00,157.00 493.75,156.92 494.75,158.08 495.00,158.00 495.75,157.70 496.75,156.93 497.00,157.00 497.75,158.04 498.75,158.27 499.00,159.00 499.75,159.01 500.75,159.83 501.00,160.00 501.75,159.15 502.75,159.45 503.00,159.00 503.75,158.36 504.75,157.77 505.00,158.00 505.75,157.92 506.75,159.00 507.00,159.00 507.75,155.95 508.50,153.00 508.75,154.38 509.50,158.00 509.75,158.41 510.75,159.56 511.00,159.50 511.75,159.21 512.75,157.93 513.00,157.50 513.75,157.76 514.75,158.79 515.00,159.00 515.75,158.30 516.75,157.64 517.00,158.00 517.75,158.72 518.75,159.96 519.00,160.00 519.75,158.55 520.75,157.15 521.00,157.00 521.75,157.03 522.75,157.63 523.00,157.50 523.75,157.71 524.75,158.05 525.00,158.00 525.75,158.42 526.75,158.27 527.30,158.50 527.30,158.50" fill="none" stroke="#d8361f" stroke-width="1.5" stroke-linejoin="round" stroke-linecap="round" />
<polyline points="58.20,106.70 59.40,105.10 59.80,100.00 60.10,91.30 60.50,75.30 61.00,63.50 62.10,62.30 63.20,60.90 63.90,56.00 64.60,48.00 65.30,44.00 65.80,42.80 66.90,43.10 68.50,45.60 70.10,48.60 72.20,52.00 74.30,55.60 76.70,59.00 79.10,62.30 80.50,61.50 81.80,60.40 82.90,60.10 84.50,60.80 86.00,61.70 87.60,62.90 89.20,64.50 91.00,66.60 94.00,70.80 97.00,74.20 100.00,77.20 103.00,80.10 106.00,82.70 109.00,85.00 112.00,86.90 115.00,88.50 118.00,90.10 121.00,91.50 124.00,92.80 126.90,93.60 128.50,93.40 130.50,93.70 132.50,95.00 135.30,96.30 138.50,97.40 142.50,98.70 144.30,99.40 146.90,99.90 148.20,97.00 149.20,95.40 150.10,95.10 151.80,96.00 153.80,97.20 156.50,99.20 159.10,101.00 163.40,103.70 168.70,105.50 175.10,107.00 180.40,107.70 185.70,108.40 191.10,109.50 195.30,110.00 198.00,110.20 202.20,109.80 203.50,108.50 204.60,108.00 206.50,107.50 208.20,107.70 210.60,108.00 213.00,110.40 216.00,110.80 219.00,111.00 222.50,112.20 226.10,111.60 227.30,110.00 228.00,108.00 228.40,118.00 228.60,129.50" fill="none" stroke="#2234bb" stroke-width="1.4" stroke-linejoin="round" stroke-linecap="round" />
<polyline points="248.80,114.18 248.80,114.20 249.80,113.38 250.80,112.46 251.50,111.70 251.80,111.55 252.80,111.77 253.80,112.35 254.00,112.50 254.80,112.47 255.80,113.01 256.50,112.90 256.80,113.03 257.80,112.97 258.30,112.90 258.80,113.18 259.80,113.72 260.00,113.70 260.80,113.77 261.80,114.38 262.00,114.50 262.80,114.54 263.80,115.41 264.00,115.20 264.80,115.05 265.80,115.78 266.00,115.60 266.80,115.30 267.80,115.73 268.00,115.60 268.80,115.37 269.80,115.26 270.00,115.30 270.80,115.50 271.80,114.87 272.00,115.20 272.80,115.13 273.80,116.03 274.00,115.80 274.80,115.94 275.80,115.81 276.80,116.61 277.00,116.30 277.80,116.72 278.80,116.27 279.80,116.62 280.00,116.70 280.80,116.60 281.80,116.93 282.80,117.35 283.00,117.30 283.80,116.64 284.80,116.47 285.80,115.49 285.80,115.80 286.80,116.09 287.80,117.06 288.30,117.10 288.80,116.72 289.80,116.11 290.40,115.80 290.80,116.14 291.70,116.70 291.80,116.73 292.80,117.15 293.80,117.38 294.20,117.90 294.80,117.96 295.80,117.97 296.70,117.50 296.80,117.80 297.80,117.26 298.80,116.73 299.20,116.70 299.80,116.60 300.80,116.83 300.80,116.70 301.80,117.29 302.50,117.50 302.80,117.45 303.80,118.27 304.20,118.75 304.80,118.76 305.80,119.05 306.70,119.20 306.80,119.35 307.80,118.50 308.75,117.90 308.80,117.60 309.80,118.84 310.00,118.75 310.80,119.02 311.80,119.49 312.10,119.60 312.80,119.12 313.80,118.86 314.20,118.75 314.80,118.84 315.80,119.39 315.80,119.20 316.80,118.56 317.80,118.51 318.30,118.30 318.80,117.88 319.80,117.87 320.40,117.50 320.80,116.88 321.80,116.31 322.10,116.25 322.80,116.40 323.30,116.70 323.80,116.92 324.80,116.75 325.80,117.27 325.80,117.30 326.80,117.26 327.80,117.47 328.30,117.70 328.80,117.72 329.80,118.14 330.80,117.89 330.80,117.90 331.80,118.38 332.80,117.99 333.30,118.30 333.80,118.73 334.80,118.60 335.00,118.75 335.80,116.39 336.25,115.40 336.80,116.15 337.50,116.70 337.80,117.04 338.80,116.56 339.80,116.91 340.00,117.10 340.80,117.40 341.80,117.23 342.80,117.29 343.00,117.50 343.80,117.61 344.80,118.20 345.80,119.17 346.00,119.20 346.80,120.05 347.80,120.70 348.50,120.80 348.80,120.71 349.80,120.05 350.80,119.94 351.00,120.00 351.80,120.20 352.80,120.23 353.80,120.10 354.80,119.81 355.00,120.00 355.80,120.08 356.80,120.13 357.80,120.31 358.80,120.14 359.80,120.70 360.00,120.40 360.80,119.13 361.50,117.50 361.80,117.31 362.80,117.56 363.80,118.13 364.00,117.90 364.80,118.78 365.00,119.20 365.80,117.83 366.00,117.10 366.80,117.11 367.80,117.24 368.00,117.10 368.80,117.90 369.80,118.38 370.00,118.75 370.80,119.26 371.80,120.06 372.00,120.40 372.80,120.87 373.80,121.32 374.80,121.36 375.00,121.70 375.80,121.83 376.80,121.32 377.50,121.25 377.80,118.58 378.30,114.60 378.80,116.32 379.60,119.20 379.80,119.68 380.80,120.11 381.25,120.40 381.80,119.56 382.50,118.30 382.80,118.59 383.80,118.62 384.20,118.30 384.80,117.88 385.80,116.64 385.80,116.70 386.80,116.23 387.50,115.80 387.80,116.28 388.80,116.89 389.80,117.42 390.00,117.50 390.80,117.65 391.80,117.98 392.50,118.30 392.80,118.50 393.80,118.50 394.80,118.24 395.00,118.60 395.80,118.80 396.80,118.99 397.50,118.75 397.80,118.00 398.80,114.86 399.20,113.30 399.80,112.50 400.80,110.42 400.80,110.40 401.80,110.29 402.10,110.00 402.80,110.64 403.75,111.70 403.80,111.47 404.80,112.61 405.00,112.90 405.80,112.77 406.25,112.90 406.80,113.78 407.50,114.20 407.80,114.61 408.80,115.45 409.20,115.80 409.80,116.22 410.80,116.44 410.80,116.70 411.80,116.72 412.80,116.84 413.30,116.70 413.80,116.87 414.80,117.24 415.80,117.83 415.80,117.90 416.80,118.18 417.80,118.84 417.90,118.75 418.80,118.22 419.80,117.88 420.00,118.10 420.80,118.26 421.80,118.89 422.50,119.00 422.80,119.31 423.80,119.65 424.80,120.26 425.40,120.20 425.80,119.44 426.80,117.54 427.50,116.70 427.80,116.97 428.80,117.88 429.20,118.30 429.80,118.81 430.80,120.37 431.25,120.80 431.80,120.31 432.80,119.54 433.80,118.91 434.20,118.75 434.80,119.17 435.80,118.69 436.70,119.20 436.80,119.09 437.80,118.90 438.80,118.70 439.80,118.73 440.00,118.75 440.80,118.34 441.80,118.57 442.10,118.20 442.80,117.18 443.75,115.80 443.80,115.97 444.80,116.32 445.00,116.70 445.80,117.60 446.80,118.86 447.50,119.60 447.80,119.98 448.80,120.05 449.80,120.68 450.00,120.80 450.80,121.46 451.80,121.96 452.80,122.05 453.30,122.50 453.80,122.61 454.80,122.92 455.80,122.83 455.80,122.90 456.80,122.05 457.50,121.25 457.80,120.83 458.80,119.25 459.20,118.20 459.80,118.76 460.80,119.73 460.80,119.60 461.80,120.50 462.80,121.76 463.30,122.10 463.80,122.18 464.80,122.70 465.80,123.00 465.80,123.10 466.80,123.08 467.80,123.07 468.80,123.25 469.30,123.50 469.80,123.58 470.80,123.46 471.80,123.41 472.80,124.03 473.70,123.90 473.80,123.75 474.80,124.26 475.80,124.07 476.80,123.97 477.80,124.35 478.00,124.10 478.80,124.45 479.80,124.14 480.80,124.10 481.25,124.40 481.80,124.66 482.80,125.09 483.80,125.22 484.00,125.20 484.80,124.90 485.80,124.01 486.70,123.50 486.80,123.56 487.80,123.07 488.80,122.93 488.80,123.00 489.80,121.22 490.10,120.80 490.80,121.27 491.50,121.90 491.80,121.98 492.80,122.77 493.70,123.00 493.80,122.79 494.80,123.04 495.80,123.31 495.90,123.50 496.80,124.28 497.50,124.30 497.80,123.96 498.60,123.00 498.80,122.89 499.80,124.46 500.75,125.20 500.80,125.49 501.80,125.94 502.80,126.10 502.90,126.25 503.80,126.41 504.80,126.11 505.80,126.00 506.20,126.25 506.80,126.30 507.80,125.93 507.80,125.70 508.80,121.59 508.90,121.40 509.80,124.28 510.00,124.60 510.80,124.44 511.80,124.87 512.70,125.20 512.80,124.86 513.80,124.97 514.80,124.96 515.80,125.35 515.90,125.20 516.80,125.34 517.80,125.59 518.80,125.90 519.20,126.25 519.80,125.24 520.80,124.15 520.80,123.90 521.80,123.83 522.80,123.33 523.50,123.50 523.80,123.61 524.80,123.42 525.80,123.28 526.80,123.26 527.30,123.20 527.30,123.20" fill="none" stroke="#2234bb" stroke-width="1.4" stroke-linejoin="round" stroke-linecap="round" />
</g>
<g clip-path="url(#cB)">
<line x1="47.50" y1="325.70" x2="546.30" y2="325.70" stroke="#9696dc" stroke-width="1.1" stroke-dasharray="4 3"/>
<polyline points="109.00,221.10 140.60,215.20 171.30,217.30 202.50,224.20 233.30,230.30 264.70,240.00 327.00,260.80 384.40,294.60 419.50,288.60 448.60,303.90 514.00,322.50" fill="none" stroke="#c8c8c8" stroke-width="3.0" stroke-linejoin="round" stroke-linecap="round" />
<path d="M109.2,279.0 L140.3,286.8 L171.4,308.8 L202.4,316.0 L233.4,326.5 L264.4,340.5 L264.4,347.8 L233.4,332.0 L202.4,320.8 L171.4,312.4 L140.3,290.3 L109.2,282.0Z" fill="#c8c8c8"/>
<line x1="97.25" y1="200.50" x2="123.35" y2="200.50" stroke="#1e8a1e" stroke-width="1.1" />
<line x1="97.25" y1="198.90" x2="97.25" y2="202.10" stroke="#1e8a1e" stroke-width="1.0" />
<line x1="123.35" y1="198.90" x2="123.35" y2="202.10" stroke="#1e8a1e" stroke-width="1.0" />
<line x1="110.30" y1="197.50" x2="110.30" y2="203.30" stroke="#1e8a1e" stroke-width="1.1" />
<line x1="108.70" y1="197.50" x2="111.90" y2="197.50" stroke="#1e8a1e" stroke-width="1.0" />
<line x1="108.70" y1="203.30" x2="111.90" y2="203.30" stroke="#1e8a1e" stroke-width="1.0" />
<path d="M110.30,197.50 L112.40,200.50 L110.30,203.50 L108.20,200.50Z" fill="#1e8a1e"/>
<line x1="123.65" y1="198.70" x2="149.75" y2="198.70" stroke="#1e8a1e" stroke-width="1.1" />
<line x1="123.65" y1="197.10" x2="123.65" y2="200.30" stroke="#1e8a1e" stroke-width="1.0" />
<line x1="149.75" y1="197.10" x2="149.75" y2="200.30" stroke="#1e8a1e" stroke-width="1.0" />
<line x1="136.70" y1="191.30" x2="136.70" y2="205.80" stroke="#1e8a1e" stroke-width="1.1" />
<line x1="135.10" y1="191.30" x2="138.30" y2="191.30" stroke="#1e8a1e" stroke-width="1.0" />
<line x1="135.10" y1="205.80" x2="138.30" y2="205.80" stroke="#1e8a1e" stroke-width="1.0" />
<path d="M136.70,195.70 L138.80,198.70 L136.70,201.70 L134.60,198.70Z" fill="#1e8a1e"/>
<line x1="149.15" y1="210.00" x2="175.25" y2="210.00" stroke="#1e8a1e" stroke-width="1.1" />
<line x1="149.15" y1="208.40" x2="149.15" y2="211.60" stroke="#1e8a1e" stroke-width="1.0" />
<line x1="175.25" y1="208.40" x2="175.25" y2="211.60" stroke="#1e8a1e" stroke-width="1.0" />
<line x1="162.20" y1="205.30" x2="162.20" y2="215.00" stroke="#1e8a1e" stroke-width="1.1" />
<line x1="160.60" y1="205.30" x2="163.80" y2="205.30" stroke="#1e8a1e" stroke-width="1.0" />
<line x1="160.60" y1="215.00" x2="163.80" y2="215.00" stroke="#1e8a1e" stroke-width="1.0" />
<path d="M162.20,207.00 L164.30,210.00 L162.20,213.00 L160.10,210.00Z" fill="#1e8a1e"/>
<line x1="175.25" y1="220.00" x2="201.35" y2="220.00" stroke="#1e8a1e" stroke-width="1.1" />
<line x1="175.25" y1="218.40" x2="175.25" y2="221.60" stroke="#1e8a1e" stroke-width="1.0" />
<line x1="201.35" y1="218.40" x2="201.35" y2="221.60" stroke="#1e8a1e" stroke-width="1.0" />
<line x1="188.30" y1="217.50" x2="188.30" y2="222.50" stroke="#1e8a1e" stroke-width="1.1" />
<line x1="186.70" y1="217.50" x2="189.90" y2="217.50" stroke="#1e8a1e" stroke-width="1.0" />
<line x1="186.70" y1="222.50" x2="189.90" y2="222.50" stroke="#1e8a1e" stroke-width="1.0" />
<path d="M188.30,217.00 L190.40,220.00 L188.30,223.00 L186.20,220.00Z" fill="#1e8a1e"/>
<line x1="201.65" y1="225.00" x2="227.75" y2="225.00" stroke="#1e8a1e" stroke-width="1.1" />
<line x1="201.65" y1="223.40" x2="201.65" y2="226.60" stroke="#1e8a1e" stroke-width="1.0" />
<line x1="227.75" y1="223.40" x2="227.75" y2="226.60" stroke="#1e8a1e" stroke-width="1.0" />
<line x1="214.70" y1="222.50" x2="214.70" y2="227.50" stroke="#1e8a1e" stroke-width="1.1" />
<line x1="213.10" y1="222.50" x2="216.30" y2="222.50" stroke="#1e8a1e" stroke-width="1.0" />
<line x1="213.10" y1="227.50" x2="216.30" y2="227.50" stroke="#1e8a1e" stroke-width="1.0" />
<path d="M214.70,222.00 L216.80,225.00 L214.70,228.00 L212.60,225.00Z" fill="#1e8a1e"/>
<line x1="227.75" y1="227.50" x2="253.85" y2="227.50" stroke="#1e8a1e" stroke-width="1.1" />
<line x1="227.75" y1="225.90" x2="227.75" y2="229.10" stroke="#1e8a1e" stroke-width="1.0" />
<line x1="253.85" y1="225.90" x2="253.85" y2="229.10" stroke="#1e8a1e" stroke-width="1.0" />
<line x1="240.80" y1="226.00" x2="240.80" y2="229.00" stroke="#1e8a1e" stroke-width="1.1" />
<path d="M240.80,224.50 L242.90,227.50 L240.80,230.50 L238.70,227.50Z" fill="#1e8a1e"/>
<line x1="253.25" y1="223.30" x2="279.35" y2="223.30" stroke="#1e8a1e" stroke-width="1.1" />
<line x1="253.25" y1="221.70" x2="253.25" y2="224.90" stroke="#1e8a1e" stroke-width="1.0" />
<line x1="279.35" y1="221.70" x2="279.35" y2="224.90" stroke="#1e8a1e" stroke-width="1.0" />
<line x1="266.30" y1="220.80" x2="266.30" y2="226.70" stroke="#1e8a1e" stroke-width="1.1" />
<line x1="264.70" y1="220.80" x2="267.90" y2="220.80" stroke="#1e8a1e" stroke-width="1.0" />
<line x1="264.70" y1="226.70" x2="267.90" y2="226.70" stroke="#1e8a1e" stroke-width="1.0" />
<path d="M266.30,220.30 L268.40,223.30 L266.30,226.30 L264.20,223.30Z" fill="#1e8a1e"/>
<line x1="279.95" y1="228.30" x2="306.05" y2="228.30" stroke="#1e8a1e" stroke-width="1.1" />
<line x1="279.95" y1="226.70" x2="279.95" y2="229.90" stroke="#1e8a1e" stroke-width="1.0" />
<line x1="306.05" y1="226.70" x2="306.05" y2="229.90" stroke="#1e8a1e" stroke-width="1.0" />
<line x1="293.00" y1="225.30" x2="293.00" y2="231.70" stroke="#1e8a1e" stroke-width="1.1" />
<line x1="291.40" y1="225.30" x2="294.60" y2="225.30" stroke="#1e8a1e" stroke-width="1.0" />
<line x1="291.40" y1="231.70" x2="294.60" y2="231.70" stroke="#1e8a1e" stroke-width="1.0" />
<path d="M293.00,225.30 L295.10,228.30 L293.00,231.30 L290.90,228.30Z" fill="#1e8a1e"/>
<line x1="305.85" y1="236.20" x2="331.95" y2="236.20" stroke="#1e8a1e" stroke-width="1.1" />
<line x1="305.85" y1="234.60" x2="305.85" y2="237.80" stroke="#1e8a1e" stroke-width="1.0" />
<line x1="331.95" y1="234.60" x2="331.95" y2="237.80" stroke="#1e8a1e" stroke-width="1.0" />
<line x1="318.90" y1="234.50" x2="318.90" y2="238.00" stroke="#1e8a1e" stroke-width="1.1" />
<line x1="317.30" y1="234.50" x2="320.50" y2="234.50" stroke="#1e8a1e" stroke-width="1.0" />
<line x1="317.30" y1="238.00" x2="320.50" y2="238.00" stroke="#1e8a1e" stroke-width="1.0" />
<path d="M318.90,233.20 L321.00,236.20 L318.90,239.20 L316.80,236.20Z" fill="#1e8a1e"/>
<line x1="331.65" y1="241.70" x2="357.75" y2="241.70" stroke="#1e8a1e" stroke-width="1.1" />
<line x1="331.65" y1="240.10" x2="331.65" y2="243.30" stroke="#1e8a1e" stroke-width="1.0" />
<line x1="357.75" y1="240.10" x2="357.75" y2="243.30" stroke="#1e8a1e" stroke-width="1.0" />
<line x1="344.70" y1="240.00" x2="344.70" y2="243.40" stroke="#1e8a1e" stroke-width="1.1" />
<line x1="343.10" y1="240.00" x2="346.30" y2="240.00" stroke="#1e8a1e" stroke-width="1.0" />
<line x1="343.10" y1="243.40" x2="346.30" y2="243.40" stroke="#1e8a1e" stroke-width="1.0" />
<path d="M344.70,238.70 L346.80,241.70 L344.70,244.70 L342.60,241.70Z" fill="#1e8a1e"/>
<line x1="358.25" y1="246.70" x2="384.35" y2="246.70" stroke="#1e8a1e" stroke-width="1.1" />
<line x1="358.25" y1="245.10" x2="358.25" y2="248.30" stroke="#1e8a1e" stroke-width="1.0" />
<line x1="384.35" y1="245.10" x2="384.35" y2="248.30" stroke="#1e8a1e" stroke-width="1.0" />
<line x1="371.30" y1="245.30" x2="371.30" y2="248.10" stroke="#1e8a1e" stroke-width="1.1" />
<path d="M371.30,243.70 L373.40,246.70 L371.30,249.70 L369.20,246.70Z" fill="#1e8a1e"/>
<line x1="383.95" y1="248.50" x2="410.05" y2="248.50" stroke="#1e8a1e" stroke-width="1.1" />
<line x1="383.95" y1="246.90" x2="383.95" y2="250.10" stroke="#1e8a1e" stroke-width="1.0" />
<line x1="410.05" y1="246.90" x2="410.05" y2="250.10" stroke="#1e8a1e" stroke-width="1.0" />
<line x1="397.00" y1="247.20" x2="397.00" y2="249.80" stroke="#1e8a1e" stroke-width="1.1" />
<path d="M397.00,245.50 L399.10,248.50 L397.00,251.50 L394.90,248.50Z" fill="#1e8a1e"/>
<line x1="409.95" y1="250.40" x2="436.05" y2="250.40" stroke="#1e8a1e" stroke-width="1.1" />
<line x1="409.95" y1="248.80" x2="409.95" y2="252.00" stroke="#1e8a1e" stroke-width="1.0" />
<line x1="436.05" y1="248.80" x2="436.05" y2="252.00" stroke="#1e8a1e" stroke-width="1.0" />
<line x1="423.00" y1="249.20" x2="423.00" y2="251.60" stroke="#1e8a1e" stroke-width="1.1" />
<path d="M423.00,247.40 L425.10,250.40 L423.00,253.40 L420.90,250.40Z" fill="#1e8a1e"/>
<line x1="436.35" y1="251.20" x2="462.45" y2="251.20" stroke="#1e8a1e" stroke-width="1.1" />
<line x1="436.35" y1="249.60" x2="436.35" y2="252.80" stroke="#1e8a1e" stroke-width="1.0" />
<line x1="462.45" y1="249.60" x2="462.45" y2="252.80" stroke="#1e8a1e" stroke-width="1.0" />
<line x1="449.40" y1="250.00" x2="449.40" y2="252.40" stroke="#1e8a1e" stroke-width="1.1" />
<path d="M449.40,248.20 L451.50,251.20 L449.40,254.20 L447.30,251.20Z" fill="#1e8a1e"/>
<line x1="462.45" y1="251.80" x2="488.55" y2="251.80" stroke="#1e8a1e" stroke-width="1.1" />
<line x1="462.45" y1="250.20" x2="462.45" y2="253.40" stroke="#1e8a1e" stroke-width="1.0" />
<line x1="488.55" y1="250.20" x2="488.55" y2="253.40" stroke="#1e8a1e" stroke-width="1.0" />
<line x1="475.50" y1="250.60" x2="475.50" y2="253.00" stroke="#1e8a1e" stroke-width="1.1" />
<path d="M475.50,248.80 L477.60,251.80 L475.50,254.80 L473.40,251.80Z" fill="#1e8a1e"/>
<line x1="488.15" y1="253.00" x2="514.25" y2="253.00" stroke="#1e8a1e" stroke-width="1.1" />
<line x1="488.15" y1="251.40" x2="488.15" y2="254.60" stroke="#1e8a1e" stroke-width="1.0" />
<line x1="514.25" y1="251.40" x2="514.25" y2="254.60" stroke="#1e8a1e" stroke-width="1.0" />
<line x1="501.20" y1="251.80" x2="501.20" y2="254.20" stroke="#1e8a1e" stroke-width="1.1" />
<path d="M501.20,250.00 L503.30,253.00 L501.20,256.00 L499.10,253.00Z" fill="#1e8a1e"/>
<line x1="514.25" y1="252.70" x2="540.35" y2="252.70" stroke="#1e8a1e" stroke-width="1.1" />
<line x1="514.25" y1="251.10" x2="514.25" y2="254.30" stroke="#1e8a1e" stroke-width="1.0" />
<line x1="540.35" y1="251.10" x2="540.35" y2="254.30" stroke="#1e8a1e" stroke-width="1.0" />
<line x1="527.30" y1="251.50" x2="527.30" y2="253.90" stroke="#1e8a1e" stroke-width="1.1" />
<path d="M527.30,249.70 L529.40,252.70 L527.30,255.70 L525.20,252.70Z" fill="#1e8a1e"/>
<line x1="109.20" y1="276.70" x2="109.20" y2="284.70" stroke="#e23812" stroke-width="1.1" />
<line x1="105.80" y1="280.50" x2="112.50" y2="280.50" stroke="#e23812" stroke-width="1.1" />
<line x1="107.60" y1="276.70" x2="110.80" y2="276.70" stroke="#e23812" stroke-width="1" />
<line x1="107.60" y1="284.70" x2="110.80" y2="284.70" stroke="#e23812" stroke-width="1" />
<line x1="105.80" y1="278.90" x2="105.80" y2="282.10" stroke="#e23812" stroke-width="1" />
<line x1="112.50" y1="278.90" x2="112.50" y2="282.10" stroke="#e23812" stroke-width="1" />
<rect x="106.70" y="278.00" width="5" height="5" fill="#e23812"/>
<circle cx="109.20" cy="280.50" r="1" fill="#e8c020"/>
<line x1="140.30" y1="284.50" x2="140.30" y2="292.50" stroke="#e23812" stroke-width="1.1" />
<line x1="133.70" y1="288.30" x2="147.00" y2="288.30" stroke="#e23812" stroke-width="1.1" />
<line x1="138.70" y1="284.50" x2="141.90" y2="284.50" stroke="#e23812" stroke-width="1" />
<line x1="138.70" y1="292.50" x2="141.90" y2="292.50" stroke="#e23812" stroke-width="1" />
<line x1="133.70" y1="286.70" x2="133.70" y2="289.90" stroke="#e23812" stroke-width="1" />
<line x1="147.00" y1="286.70" x2="147.00" y2="289.90" stroke="#e23812" stroke-width="1" />
<rect x="137.80" y="285.80" width="5" height="5" fill="#e23812"/>
<circle cx="140.30" cy="288.30" r="1" fill="#e8c020"/>
<line x1="171.40" y1="307.00" x2="171.40" y2="314.60" stroke="#e23812" stroke-width="1.1" />
<line x1="168.40" y1="310.60" x2="174.40" y2="310.60" stroke="#e23812" stroke-width="1.1" />
<line x1="169.80" y1="307.00" x2="173.00" y2="307.00" stroke="#e23812" stroke-width="1" />
<line x1="169.80" y1="314.60" x2="173.00" y2="314.60" stroke="#e23812" stroke-width="1" />
<line x1="168.40" y1="309.00" x2="168.40" y2="312.20" stroke="#e23812" stroke-width="1" />
<line x1="174.40" y1="309.00" x2="174.40" y2="312.20" stroke="#e23812" stroke-width="1" />
<rect x="168.90" y="308.10" width="5" height="5" fill="#e23812"/>
<circle cx="171.40" cy="310.60" r="1" fill="#e8c020"/>
<line x1="202.40" y1="314.60" x2="202.40" y2="322.00" stroke="#e23812" stroke-width="1.1" />
<line x1="196.00" y1="318.40" x2="209.00" y2="318.40" stroke="#e23812" stroke-width="1.1" />
<line x1="200.80" y1="314.60" x2="204.00" y2="314.60" stroke="#e23812" stroke-width="1" />
<line x1="200.80" y1="322.00" x2="204.00" y2="322.00" stroke="#e23812" stroke-width="1" />
<line x1="196.00" y1="316.80" x2="196.00" y2="320.00" stroke="#e23812" stroke-width="1" />
<line x1="209.00" y1="316.80" x2="209.00" y2="320.00" stroke="#e23812" stroke-width="1" />
<rect x="199.90" y="315.90" width="5" height="5" fill="#e23812"/>
<circle cx="202.40" cy="318.40" r="1" fill="#e8c020"/>
<line x1="233.40" y1="326.00" x2="233.40" y2="333.40" stroke="#e23812" stroke-width="1.1" />
<line x1="230.00" y1="329.40" x2="237.00" y2="329.40" stroke="#e23812" stroke-width="1.1" />
<line x1="231.80" y1="326.00" x2="235.00" y2="326.00" stroke="#e23812" stroke-width="1" />
<line x1="231.80" y1="333.40" x2="235.00" y2="333.40" stroke="#e23812" stroke-width="1" />
<line x1="230.00" y1="327.80" x2="230.00" y2="331.00" stroke="#e23812" stroke-width="1" />
<line x1="237.00" y1="327.80" x2="237.00" y2="331.00" stroke="#e23812" stroke-width="1" />
<rect x="230.90" y="326.90" width="5" height="5" fill="#e23812"/>
<circle cx="233.40" cy="329.40" r="1" fill="#e8c020"/>
<line x1="264.40" y1="341.00" x2="264.40" y2="348.00" stroke="#e23812" stroke-width="1.1" />
<line x1="258.00" y1="344.40" x2="271.00" y2="344.40" stroke="#e23812" stroke-width="1.1" />
<line x1="262.80" y1="341.00" x2="266.00" y2="341.00" stroke="#e23812" stroke-width="1" />
<line x1="262.80" y1="348.00" x2="266.00" y2="348.00" stroke="#e23812" stroke-width="1" />
<line x1="258.00" y1="342.80" x2="258.00" y2="346.00" stroke="#e23812" stroke-width="1" />
<line x1="271.00" y1="342.80" x2="271.00" y2="346.00" stroke="#e23812" stroke-width="1" />
<rect x="261.90" y="341.90" width="5" height="5" fill="#e23812"/>
<circle cx="264.40" cy="344.40" r="1" fill="#e8c020"/>
<line x1="105.40" y1="221.10" x2="112.90" y2="221.10" stroke="#1f35c0" stroke-width="1.1" />
<line x1="105.40" y1="219.30" x2="105.40" y2="222.90" stroke="#1f35c0" stroke-width="1" />
<line x1="112.90" y1="219.30" x2="112.90" y2="222.90" stroke="#1f35c0" stroke-width="1" />
<circle cx="109.00" cy="221.10" r="2.3" fill="#d8d890" stroke="#1f35c0" stroke-width="1.3"/>
<line x1="133.30" y1="215.20" x2="147.50" y2="215.20" stroke="#1f35c0" stroke-width="1.1" />
<line x1="133.30" y1="213.40" x2="133.30" y2="217.00" stroke="#1f35c0" stroke-width="1" />
<line x1="147.50" y1="213.40" x2="147.50" y2="217.00" stroke="#1f35c0" stroke-width="1" />
<circle cx="140.60" cy="215.20" r="2.3" fill="#d8d890" stroke="#1f35c0" stroke-width="1.3"/>
<line x1="168.00" y1="217.30" x2="175.00" y2="217.30" stroke="#1f35c0" stroke-width="1.1" />
<line x1="168.00" y1="215.50" x2="168.00" y2="219.10" stroke="#1f35c0" stroke-width="1" />
<line x1="175.00" y1="215.50" x2="175.00" y2="219.10" stroke="#1f35c0" stroke-width="1" />
<circle cx="171.30" cy="217.30" r="2.3" fill="#d8d890" stroke="#1f35c0" stroke-width="1.3"/>
<line x1="195.80" y1="224.20" x2="209.20" y2="224.20" stroke="#1f35c0" stroke-width="1.1" />
<line x1="195.80" y1="222.40" x2="195.80" y2="226.00" stroke="#1f35c0" stroke-width="1" />
<line x1="209.20" y1="222.40" x2="209.20" y2="226.00" stroke="#1f35c0" stroke-width="1" />
<circle cx="202.50" cy="224.20" r="2.3" fill="#d8d890" stroke="#1f35c0" stroke-width="1.3"/>
<line x1="229.50" y1="230.30" x2="237.10" y2="230.30" stroke="#1f35c0" stroke-width="1.1" />
<line x1="229.50" y1="228.50" x2="229.50" y2="232.10" stroke="#1f35c0" stroke-width="1" />
<line x1="237.10" y1="228.50" x2="237.10" y2="232.10" stroke="#1f35c0" stroke-width="1" />
<circle cx="233.30" cy="230.30" r="2.3" fill="#d8d890" stroke="#1f35c0" stroke-width="1.3"/>
<line x1="258.30" y1="240.00" x2="271.30" y2="240.00" stroke="#1f35c0" stroke-width="1.1" />
<line x1="258.30" y1="238.20" x2="258.30" y2="241.80" stroke="#1f35c0" stroke-width="1" />
<line x1="271.30" y1="238.20" x2="271.30" y2="241.80" stroke="#1f35c0" stroke-width="1" />
<circle cx="264.70" cy="240.00" r="2.3" fill="#d8d890" stroke="#1f35c0" stroke-width="1.3"/>
<line x1="320.30" y1="260.80" x2="333.80" y2="260.80" stroke="#1f35c0" stroke-width="1.1" />
<line x1="320.30" y1="259.00" x2="320.30" y2="262.60" stroke="#1f35c0" stroke-width="1" />
<line x1="333.80" y1="259.00" x2="333.80" y2="262.60" stroke="#1f35c0" stroke-width="1" />
<circle cx="327.00" cy="260.80" r="2.3" fill="#d8d890" stroke="#1f35c0" stroke-width="1.3"/>
<line x1="384.40" y1="288.60" x2="384.40" y2="303.90" stroke="#1f35c0" stroke-width="1.1" />
<line x1="382.60" y1="288.60" x2="386.20" y2="288.60" stroke="#1f35c0" stroke-width="1" />
<line x1="382.60" y1="303.90" x2="386.20" y2="303.90" stroke="#1f35c0" stroke-width="1" />
<circle cx="384.40" cy="294.60" r="2.3" fill="#d8d890" stroke="#1f35c0" stroke-width="1.3"/>
<line x1="419.50" y1="280.50" x2="419.50" y2="303.00" stroke="#1f35c0" stroke-width="1.1" />
<line x1="417.70" y1="280.50" x2="421.30" y2="280.50" stroke="#1f35c0" stroke-width="1" />
<line x1="417.70" y1="303.00" x2="421.30" y2="303.00" stroke="#1f35c0" stroke-width="1" />
<circle cx="419.50" cy="288.60" r="2.3" fill="#d8d890" stroke="#1f35c0" stroke-width="1.3"/>
<line x1="448.60" y1="298.50" x2="448.60" y2="311.10" stroke="#1f35c0" stroke-width="1.1" />
<line x1="446.80" y1="298.50" x2="450.40" y2="298.50" stroke="#1f35c0" stroke-width="1" />
<line x1="446.80" y1="311.10" x2="450.40" y2="311.10" stroke="#1f35c0" stroke-width="1" />
<line x1="445.00" y1="303.90" x2="454.00" y2="303.90" stroke="#1f35c0" stroke-width="1.1" />
<line x1="445.00" y1="302.10" x2="445.00" y2="305.70" stroke="#1f35c0" stroke-width="1" />
<line x1="454.00" y1="302.10" x2="454.00" y2="305.70" stroke="#1f35c0" stroke-width="1" />
<circle cx="448.60" cy="303.90" r="2.3" fill="#d8d890" stroke="#1f35c0" stroke-width="1.3"/>
<line x1="507.40" y1="322.50" x2="520.00" y2="322.50" stroke="#1f35c0" stroke-width="1.1" />
<line x1="507.40" y1="320.70" x2="507.40" y2="324.30" stroke="#1f35c0" stroke-width="1" />
<line x1="520.00" y1="320.70" x2="520.00" y2="324.30" stroke="#1f35c0" stroke-width="1" />
<circle cx="514.00" cy="322.50" r="2.3" fill="#d8d890" stroke="#1f35c0" stroke-width="1.3"/>
<line x1="514.00" y1="322.50" x2="514.00" y2="333.50" stroke="#1f35c0" stroke-width="1.1" />
<path d="M511.8,331.3 L514,334.6 L516.2,331.3" fill="none" stroke="#1f35c0" stroke-width="1.1"/>
<circle cx="71.2" cy="187.6" r="1.75" fill="#2a3ae0"/>
<circle cx="72.6" cy="187.4" r="1.75" fill="#2a3ae0"/>
<circle cx="74.0" cy="187.9" r="1.75" fill="#2a3ae0"/>
<circle cx="75.3" cy="190.2" r="1.75" fill="#2a3ae0"/>
<circle cx="77" cy="192.5" r="1.75" fill="#2a3ae0"/>
<circle cx="78.5" cy="194.4" r="1.75" fill="#2a3ae0"/>
<circle cx="79.6" cy="197.4" r="1.75" fill="#2a3ae0"/>
<circle cx="81" cy="199.5" r="1.75" fill="#2a3ae0"/>
<circle cx="82.8" cy="203.3" r="1.75" fill="#2a3ae0"/>
<circle cx="84.7" cy="207.7" r="1.75" fill="#2a3ae0"/>
<line x1="71.70" y1="251.10" x2="71.70" y2="255.50" stroke="#f07070" stroke-width="0.9" />
<line x1="70.50" y1="251.10" x2="72.90" y2="251.10" stroke="#f07070" stroke-width="0.9" />
<line x1="70.50" y1="255.50" x2="72.90" y2="255.50" stroke="#f07070" stroke-width="0.9" />
<ellipse cx="71.7" cy="253.3" rx="1.7" ry="2.1" fill="#e83030"/>
<ellipse cx="73.3" cy="264.3" rx="1.7" ry="2.1" fill="#e83030"/>
<ellipse cx="75.4" cy="268.5" rx="1.7" ry="2.1" fill="#e83030"/>
<ellipse cx="76.5" cy="265.9" rx="1.7" ry="2.1" fill="#e83030"/>
<ellipse cx="78.9" cy="259.5" rx="1.7" ry="2.1" fill="#e83030"/>
<line x1="81.80" y1="245.30" x2="81.80" y2="252.30" stroke="#f07070" stroke-width="0.9" />
<line x1="80.60" y1="245.30" x2="83.00" y2="245.30" stroke="#f07070" stroke-width="0.9" />
<line x1="80.60" y1="252.30" x2="83.00" y2="252.30" stroke="#f07070" stroke-width="0.9" />
<ellipse cx="81.8" cy="248.8" rx="1.7" ry="2.1" fill="#e83030"/>
<line x1="83.90" y1="245.60" x2="83.90" y2="260.60" stroke="#f07070" stroke-width="0.9" />
<line x1="82.70" y1="245.60" x2="85.10" y2="245.60" stroke="#f07070" stroke-width="0.9" />
<line x1="82.70" y1="260.60" x2="85.10" y2="260.60" stroke="#f07070" stroke-width="0.9" />
<ellipse cx="83.9" cy="253.1" rx="1.7" ry="2.1" fill="#e83030"/>
</g>
<line x1="102.00" y1="20.80" x2="115.60" y2="20.80" stroke="#d8361f" stroke-width="1.7" />
<line x1="102.00" y1="32.90" x2="115.60" y2="32.90" stroke="#2234bb" stroke-width="1.7" />
<text x="124.29" y="24.20" font-size="9.0" fill="#000" stroke="#000" stroke-width="0.06" textLength="69.40" lengthAdjust="spacingAndGlyphs">X-ray (3-25 keV)</text>
<text x="124.29" y="35.90" font-size="9.0" fill="#000" stroke="#000" stroke-width="0.06" textLength="77.60" lengthAdjust="spacingAndGlyphs">X-ray (1.5-12 keV)</text>
<circle cx="378.1" cy="25.9" r="0.95" fill="#52a252"/><circle cx="389.7" cy="25.9" r="0.95" fill="#52a252"/>
<line x1="379.60" y1="25.90" x2="381.60" y2="25.90" stroke="#52a252" stroke-width="0.7" />
<line x1="386.20" y1="25.90" x2="388.20" y2="25.90" stroke="#52a252" stroke-width="0.7" />
<text x="398.93" y="29.10" font-size="9.0" fill="#000" stroke="#000" stroke-width="0.06" textLength="86.85" lengthAdjust="spacingAndGlyphs">Protons (30-50 MeV)</text>
<circle cx="378.1" cy="38.3" r="0.95" fill="#dcdc74"/><circle cx="389.7" cy="38.3" r="0.95" fill="#dcdc74"/>
<line x1="379.60" y1="38.30" x2="381.60" y2="38.30" stroke="#dcdc74" stroke-width="0.7" />
<line x1="386.20" y1="38.30" x2="388.20" y2="38.30" stroke="#dcdc74" stroke-width="0.7" />
<text x="398.93" y="41.00" font-size="9.0" fill="#000" stroke="#000" stroke-width="0.06" textLength="92.35" lengthAdjust="spacingAndGlyphs">Protons (50-100 MeV)</text>
<circle cx="378.1" cy="50.7" r="0.95" fill="#cc62cc"/><circle cx="389.7" cy="50.7" r="0.95" fill="#cc62cc"/>
<line x1="379.60" y1="50.70" x2="381.60" y2="50.70" stroke="#cc62cc" stroke-width="0.7" />
<line x1="386.20" y1="50.70" x2="388.20" y2="50.70" stroke="#cc62cc" stroke-width="0.7" />
<text x="398.92" y="52.90" font-size="9.0" fill="#000" stroke="#000" stroke-width="0.06" textLength="85.67" lengthAdjust="spacingAndGlyphs">Protons (&gt;100 MeV)</text>
<circle cx="377.8" cy="191.6" r="1.9" fill="#8c8ce8"/>
<circle cx="389.9" cy="191.6" r="1.9" fill="#8c8ce8"/>
<circle cx="377.8" cy="204.0" r="2.1" fill="#e4e4e8" stroke="#1f2f90" stroke-width="1.3"/>
<circle cx="389.9" cy="204.0" r="2.1" fill="#e4e4e8" stroke="#1f2f90" stroke-width="1.3"/>
<circle cx="377.8" cy="216.6" r="1.9" fill="#f0a0a0"/>
<circle cx="389.9" cy="216.6" r="1.9" fill="#f0a0a0"/>
<rect x="376.1" y="227.4" width="3.4" height="3.4" fill="#e04818"/><rect x="377.2" y="228.5" width="1.2" height="1.2" fill="#e8a020"/>
<rect x="388.2" y="227.4" width="3.4" height="3.4" fill="#e04818"/><rect x="389.29999999999995" y="228.5" width="1.2" height="1.2" fill="#e8a020"/>
<path d="M377.8,239.0 L379.6,242.0 L377.8,245.0 L376.0,242.0Z" fill="#b4dcb0" stroke="#48a048" stroke-width="0.9"/>
<path d="M389.9,239.0 L391.7,242.0 L389.9,245.0 L388.09999999999997,242.0Z" fill="#b4dcb0" stroke="#48a048" stroke-width="0.9"/>
<text x="401.11" y="194.00" font-size="8.7" fill="#888" stroke="#888" stroke-width="0.06" textLength="5.77" lengthAdjust="spacingAndGlyphs">&gt;</text>
<text x="407.29" y="194.00" font-size="8.7" fill="#000" stroke="#000" stroke-width="0.06" textLength="76.11" lengthAdjust="spacingAndGlyphs">100 MeV flux, LLE</text>
<text x="401.11" y="206.80" font-size="8.7" fill="#888" stroke="#888" stroke-width="0.06" textLength="5.77" lengthAdjust="spacingAndGlyphs">&gt;</text>
<text x="407.27" y="206.80" font-size="8.7" fill="#000" stroke="#000" stroke-width="0.06" textLength="104.35" lengthAdjust="spacingAndGlyphs">100 MeV flux, Likelihood</text>
<text x="398.84" y="219.40" font-size="8.7" fill="#000" stroke="#000" stroke-width="0.06" textLength="73.56" lengthAdjust="spacingAndGlyphs">Proton index, LLE</text>
<text x="398.82" y="231.80" font-size="8.7" fill="#000" stroke="#000" stroke-width="0.06" textLength="101.80" lengthAdjust="spacingAndGlyphs">Proton index, Likelihood</text>
<text x="398.86" y="244.80" font-size="8.7" fill="#000" stroke="#000" stroke-width="0.06" textLength="97.56" lengthAdjust="spacingAndGlyphs">Proton index, GOES HR</text>
<text x="496.9" y="247.3" font-size="5.6" font-style="italic" textLength="4.0" lengthAdjust="spacingAndGlyphs">P</text>
<line x1="58.30" y1="6.30" x2="58.30" y2="11.80" stroke="#7a7a7a" stroke-width="0.9" />
<line x1="58.30" y1="179.20" x2="58.30" y2="173.70" stroke="#7a7a7a" stroke-width="0.9" />
<line x1="58.30" y1="179.20" x2="58.30" y2="184.70" stroke="#7a7a7a" stroke-width="0.9" />
<line x1="58.30" y1="351.60" x2="58.30" y2="346.10" stroke="#7a7a7a" stroke-width="0.9" />
<line x1="77.85" y1="6.30" x2="77.85" y2="9.50" stroke="#a4a4a4" stroke-width="0.9" />
<line x1="77.85" y1="179.20" x2="77.85" y2="176.00" stroke="#a4a4a4" stroke-width="0.9" />
<line x1="77.85" y1="179.20" x2="77.85" y2="182.40" stroke="#a4a4a4" stroke-width="0.9" />
<line x1="77.85" y1="351.60" x2="77.85" y2="348.40" stroke="#a4a4a4" stroke-width="0.9" />
<line x1="97.40" y1="6.30" x2="97.40" y2="9.50" stroke="#a4a4a4" stroke-width="0.9" />
<line x1="97.40" y1="179.20" x2="97.40" y2="176.00" stroke="#a4a4a4" stroke-width="0.9" />
<line x1="97.40" y1="179.20" x2="97.40" y2="182.40" stroke="#a4a4a4" stroke-width="0.9" />
<line x1="97.40" y1="351.60" x2="97.40" y2="348.40" stroke="#a4a4a4" stroke-width="0.9" />
<line x1="116.95" y1="6.30" x2="116.95" y2="11.80" stroke="#7a7a7a" stroke-width="0.9" />
<line x1="116.95" y1="179.20" x2="116.95" y2="173.70" stroke="#7a7a7a" stroke-width="0.9" />
<line x1="116.95" y1="179.20" x2="116.95" y2="184.70" stroke="#7a7a7a" stroke-width="0.9" />
<line x1="116.95" y1="351.60" x2="116.95" y2="346.10" stroke="#7a7a7a" stroke-width="0.9" />
<line x1="136.50" y1="6.30" x2="136.50" y2="9.50" stroke="#a4a4a4" stroke-width="0.9" />
<line x1="136.50" y1="179.20" x2="136.50" y2="176.00" stroke="#a4a4a4" stroke-width="0.9" />
<line x1="136.50" y1="179.20" x2="136.50" y2="182.40" stroke="#a4a4a4" stroke-width="0.9" />
<line x1="136.50" y1="351.60" x2="136.50" y2="348.40" stroke="#a4a4a4" stroke-width="0.9" />
<line x1="156.05" y1="6.30" x2="156.05" y2="9.50" stroke="#a4a4a4" stroke-width="0.9" />
<line x1="156.05" y1="179.20" x2="156.05" y2="176.00" stroke="#a4a4a4" stroke-width="0.9" />
<line x1="156.05" y1="179.20" x2="156.05" y2="182.40" stroke="#a4a4a4" stroke-width="0.9" />
<line x1="156.05" y1="351.60" x2="156.05" y2="348.40" stroke="#a4a4a4" stroke-width="0.9" />
<line x1="175.60" y1="6.30" x2="175.60" y2="11.80" stroke="#7a7a7a" stroke-width="0.9" />
<line x1="175.60" y1="179.20" x2="175.60" y2="173.70" stroke="#7a7a7a" stroke-width="0.9" />
<line x1="175.60" y1="179.20" x2="175.60" y2="184.70" stroke="#7a7a7a" stroke-width="0.9" />
<line x1="175.60" y1="351.60" x2="175.60" y2="346.10" stroke="#7a7a7a" stroke-width="0.9" />
<line x1="195.15" y1="6.30" x2="195.15" y2="9.50" stroke="#a4a4a4" stroke-width="0.9" />
<line x1="195.15" y1="179.20" x2="195.15" y2="176.00" stroke="#a4a4a4" stroke-width="0.9" />
<line x1="195.15" y1="179.20" x2="195.15" y2="182.40" stroke="#a4a4a4" stroke-width="0.9" />
<line x1="195.15" y1="351.60" x2="195.15" y2="348.40" stroke="#a4a4a4" stroke-width="0.9" />
<line x1="214.70" y1="6.30" x2="214.70" y2="9.50" stroke="#a4a4a4" stroke-width="0.9" />
<line x1="214.70" y1="179.20" x2="214.70" y2="176.00" stroke="#a4a4a4" stroke-width="0.9" />
<line x1="214.70" y1="179.20" x2="214.70" y2="182.40" stroke="#a4a4a4" stroke-width="0.9" />
<line x1="214.70" y1="351.60" x2="214.70" y2="348.40" stroke="#a4a4a4" stroke-width="0.9" />
<line x1="234.25" y1="6.30" x2="234.25" y2="11.80" stroke="#7a7a7a" stroke-width="0.9" />
<line x1="234.25" y1="179.20" x2="234.25" y2="173.70" stroke="#7a7a7a" stroke-width="0.9" />
<line x1="234.25" y1="179.20" x2="234.25" y2="184.70" stroke="#7a7a7a" stroke-width="0.9" />
<line x1="234.25" y1="351.60" x2="234.25" y2="346.10" stroke="#7a7a7a" stroke-width="0.9" />
<line x1="253.80" y1="6.30" x2="253.80" y2="9.50" stroke="#a4a4a4" stroke-width="0.9" />
<line x1="253.80" y1="179.20" x2="253.80" y2="176.00" stroke="#a4a4a4" stroke-width="0.9" />
<line x1="253.80" y1="179.20" x2="253.80" y2="182.40" stroke="#a4a4a4" stroke-width="0.9" />
<line x1="253.80" y1="351.60" x2="253.80" y2="348.40" stroke="#a4a4a4" stroke-width="0.9" />
<line x1="273.35" y1="6.30" x2="273.35" y2="9.50" stroke="#a4a4a4" stroke-width="0.9" />
<line x1="273.35" y1="179.20" x2="273.35" y2="176.00" stroke="#a4a4a4" stroke-width="0.9" />
<line x1="273.35" y1="179.20" x2="273.35" y2="182.40" stroke="#a4a4a4" stroke-width="0.9" />
<line x1="273.35" y1="351.60" x2="273.35" y2="348.40" stroke="#a4a4a4" stroke-width="0.9" />
<line x1="292.90" y1="6.30" x2="292.90" y2="11.80" stroke="#7a7a7a" stroke-width="0.9" />
<line x1="292.90" y1="179.20" x2="292.90" y2="173.70" stroke="#7a7a7a" stroke-width="0.9" />
<line x1="292.90" y1="179.20" x2="292.90" y2="184.70" stroke="#7a7a7a" stroke-width="0.9" />
<line x1="292.90" y1="351.60" x2="292.90" y2="346.10" stroke="#7a7a7a" stroke-width="0.9" />
<line x1="312.45" y1="6.30" x2="312.45" y2="9.50" stroke="#a4a4a4" stroke-width="0.9" />
<line x1="312.45" y1="179.20" x2="312.45" y2="176.00" stroke="#a4a4a4" stroke-width="0.9" />
<line x1="312.45" y1="179.20" x2="312.45" y2="182.40" stroke="#a4a4a4" stroke-width="0.9" />
<line x1="312.45" y1="351.60" x2="312.45" y2="348.40" stroke="#a4a4a4" stroke-width="0.9" />
<line x1="332.00" y1="6.30" x2="332.00" y2="9.50" stroke="#a4a4a4" stroke-width="0.9" />
<line x1="332.00" y1="179.20" x2="332.00" y2="176.00" stroke="#a4a4a4" stroke-width="0.9" />
<line x1="332.00" y1="179.20" x2="332.00" y2="182.40" stroke="#a4a4a4" stroke-width="0.9" />
<line x1="332.00" y1="351.60" x2="332.00" y2="348.40" stroke="#a4a4a4" stroke-width="0.9" />
<line x1="351.55" y1="6.30" x2="351.55" y2="11.80" stroke="#7a7a7a" stroke-width="0.9" />
<line x1="351.55" y1="179.20" x2="351.55" y2="173.70" stroke="#7a7a7a" stroke-width="0.9" />
<line x1="351.55" y1="179.20" x2="351.55" y2="184.70" stroke="#7a7a7a" stroke-width="0.9" />
<line x1="351.55" y1="351.60" x2="351.55" y2="346.10" stroke="#7a7a7a" stroke-width="0.9" />
<line x1="371.10" y1="6.30" x2="371.10" y2="9.50" stroke="#a4a4a4" stroke-width="0.9" />
<line x1="371.10" y1="179.20" x2="371.10" y2="176.00" stroke="#a4a4a4" stroke-width="0.9" />
<line x1="371.10" y1="179.20" x2="371.10" y2="182.40" stroke="#a4a4a4" stroke-width="0.9" />
<line x1="371.10" y1="351.60" x2="371.10" y2="348.40" stroke="#a4a4a4" stroke-width="0.9" />
<line x1="390.65" y1="6.30" x2="390.65" y2="9.50" stroke="#a4a4a4" stroke-width="0.9" />
<line x1="390.65" y1="179.20" x2="390.65" y2="176.00" stroke="#a4a4a4" stroke-width="0.9" />
<line x1="390.65" y1="179.20" x2="390.65" y2="182.40" stroke="#a4a4a4" stroke-width="0.9" />
<line x1="390.65" y1="351.60" x2="390.65" y2="348.40" stroke="#a4a4a4" stroke-width="0.9" />
<line x1="410.20" y1="6.30" x2="410.20" y2="11.80" stroke="#7a7a7a" stroke-width="0.9" />
<line x1="410.20" y1="179.20" x2="410.20" y2="173.70" stroke="#7a7a7a" stroke-width="0.9" />
<line x1="410.20" y1="179.20" x2="410.20" y2="184.70" stroke="#7a7a7a" stroke-width="0.9" />
<line x1="410.20" y1="351.60" x2="410.20" y2="346.10" stroke="#7a7a7a" stroke-width="0.9" />
<line x1="429.75" y1="6.30" x2="429.75" y2="9.50" stroke="#a4a4a4" stroke-width="0.9" />
<line x1="429.75" y1="179.20" x2="429.75" y2="176.00" stroke="#a4a4a4" stroke-width="0.9" />
<line x1="429.75" y1="179.20" x2="429.75" y2="182.40" stroke="#a4a4a4" stroke-width="0.9" />
<line x1="429.75" y1="351.60" x2="429.75" y2="348.40" stroke="#a4a4a4" stroke-width="0.9" />
<line x1="449.30" y1="6.30" x2="449.30" y2="9.50" stroke="#a4a4a4" stroke-width="0.9" />
<line x1="449.30" y1="179.20" x2="449.30" y2="176.00" stroke="#a4a4a4" stroke-width="0.9" />
<line x1="449.30" y1="179.20" x2="449.30" y2="182.40" stroke="#a4a4a4" stroke-width="0.9" />
<line x1="449.30" y1="351.60" x2="449.30" y2="348.40" stroke="#a4a4a4" stroke-width="0.9" />
<line x1="468.85" y1="6.30" x2="468.85" y2="11.80" stroke="#7a7a7a" stroke-width="0.9" />
<line x1="468.85" y1="179.20" x2="468.85" y2="173.70" stroke="#7a7a7a" stroke-width="0.9" />
<line x1="468.85" y1="179.20" x2="468.85" y2="184.70" stroke="#7a7a7a" stroke-width="0.9" />
<line x1="468.85" y1="351.60" x2="468.85" y2="346.10" stroke="#7a7a7a" stroke-width="0.9" />
<line x1="488.40" y1="6.30" x2="488.40" y2="9.50" stroke="#a4a4a4" stroke-width="0.9" />
<line x1="488.40" y1="179.20" x2="488.40" y2="176.00" stroke="#a4a4a4" stroke-width="0.9" />
<line x1="488.40" y1="179.20" x2="488.40" y2="182.40" stroke="#a4a4a4" stroke-width="0.9" />
<line x1="488.40" y1="351.60" x2="488.40" y2="348.40" stroke="#a4a4a4" stroke-width="0.9" />
<line x1="507.95" y1="6.30" x2="507.95" y2="9.50" stroke="#a4a4a4" stroke-width="0.9" />
<line x1="507.95" y1="179.20" x2="507.95" y2="176.00" stroke="#a4a4a4" stroke-width="0.9" />
<line x1="507.95" y1="179.20" x2="507.95" y2="182.40" stroke="#a4a4a4" stroke-width="0.9" />
<line x1="507.95" y1="351.60" x2="507.95" y2="348.40" stroke="#a4a4a4" stroke-width="0.9" />
<line x1="527.50" y1="6.30" x2="527.50" y2="11.80" stroke="#7a7a7a" stroke-width="0.9" />
<line x1="527.50" y1="179.20" x2="527.50" y2="173.70" stroke="#7a7a7a" stroke-width="0.9" />
<line x1="527.50" y1="179.20" x2="527.50" y2="184.70" stroke="#7a7a7a" stroke-width="0.9" />
<line x1="527.50" y1="351.60" x2="527.50" y2="346.10" stroke="#7a7a7a" stroke-width="0.9" />
<line x1="47.50" y1="6.30" x2="53.00" y2="6.30" stroke="#8a8a8a" stroke-width="0.9" />
<line x1="47.50" y1="35.12" x2="53.00" y2="35.12" stroke="#8a8a8a" stroke-width="0.9" />
<line x1="47.50" y1="26.44" x2="50.70" y2="26.44" stroke="#a8a8a8" stroke-width="0.8" />
<line x1="47.50" y1="21.37" x2="50.70" y2="21.37" stroke="#a8a8a8" stroke-width="0.8" />
<line x1="47.50" y1="17.77" x2="50.70" y2="17.77" stroke="#a8a8a8" stroke-width="0.8" />
<line x1="47.50" y1="14.98" x2="50.70" y2="14.98" stroke="#a8a8a8" stroke-width="0.8" />
<line x1="47.50" y1="12.69" x2="50.70" y2="12.69" stroke="#a8a8a8" stroke-width="0.8" />
<line x1="47.50" y1="10.76" x2="50.70" y2="10.76" stroke="#a8a8a8" stroke-width="0.8" />
<line x1="47.50" y1="9.09" x2="50.70" y2="9.09" stroke="#a8a8a8" stroke-width="0.8" />
<line x1="47.50" y1="7.62" x2="50.70" y2="7.62" stroke="#a8a8a8" stroke-width="0.8" />
<line x1="47.50" y1="63.94" x2="53.00" y2="63.94" stroke="#8a8a8a" stroke-width="0.9" />
<line x1="47.50" y1="55.26" x2="50.70" y2="55.26" stroke="#a8a8a8" stroke-width="0.8" />
<line x1="47.50" y1="50.19" x2="50.70" y2="50.19" stroke="#a8a8a8" stroke-width="0.8" />
<line x1="47.50" y1="46.59" x2="50.70" y2="46.59" stroke="#a8a8a8" stroke-width="0.8" />
<line x1="47.50" y1="43.80" x2="50.70" y2="43.80" stroke="#a8a8a8" stroke-width="0.8" />
<line x1="47.50" y1="41.51" x2="50.70" y2="41.51" stroke="#a8a8a8" stroke-width="0.8" />
<line x1="47.50" y1="39.58" x2="50.70" y2="39.58" stroke="#a8a8a8" stroke-width="0.8" />
<line x1="47.50" y1="37.91" x2="50.70" y2="37.91" stroke="#a8a8a8" stroke-width="0.8" />
<line x1="47.50" y1="36.44" x2="50.70" y2="36.44" stroke="#a8a8a8" stroke-width="0.8" />
<line x1="47.50" y1="92.76" x2="53.00" y2="92.76" stroke="#8a8a8a" stroke-width="0.9" />
<line x1="47.50" y1="84.08" x2="50.70" y2="84.08" stroke="#a8a8a8" stroke-width="0.8" />
<line x1="47.50" y1="79.01" x2="50.70" y2="79.01" stroke="#a8a8a8" stroke-width="0.8" />
<line x1="47.50" y1="75.41" x2="50.70" y2="75.41" stroke="#a8a8a8" stroke-width="0.8" />
<line x1="47.50" y1="72.62" x2="50.70" y2="72.62" stroke="#a8a8a8" stroke-width="0.8" />
<line x1="47.50" y1="70.33" x2="50.70" y2="70.33" stroke="#a8a8a8" stroke-width="0.8" />
<line x1="47.50" y1="68.40" x2="50.70" y2="68.40" stroke="#a8a8a8" stroke-width="0.8" />
<line x1="47.50" y1="66.73" x2="50.70" y2="66.73" stroke="#a8a8a8" stroke-width="0.8" />
<line x1="47.50" y1="65.26" x2="50.70" y2="65.26" stroke="#a8a8a8" stroke-width="0.8" />
<line x1="47.50" y1="121.58" x2="53.00" y2="121.58" stroke="#8a8a8a" stroke-width="0.9" />
<line x1="47.50" y1="112.90" x2="50.70" y2="112.90" stroke="#a8a8a8" stroke-width="0.8" />
<line x1="47.50" y1="107.83" x2="50.70" y2="107.83" stroke="#a8a8a8" stroke-width="0.8" />
<line x1="47.50" y1="104.23" x2="50.70" y2="104.23" stroke="#a8a8a8" stroke-width="0.8" />
<line x1="47.50" y1="101.44" x2="50.70" y2="101.44" stroke="#a8a8a8" stroke-width="0.8" />
<line x1="47.50" y1="99.15" x2="50.70" y2="99.15" stroke="#a8a8a8" stroke-width="0.8" />
<line x1="47.50" y1="97.22" x2="50.70" y2="97.22" stroke="#a8a8a8" stroke-width="0.8" />
<line x1="47.50" y1="95.55" x2="50.70" y2="95.55" stroke="#a8a8a8" stroke-width="0.8" />
<line x1="47.50" y1="94.08" x2="50.70" y2="94.08" stroke="#a8a8a8" stroke-width="0.8" />
<line x1="47.50" y1="150.40" x2="53.00" y2="150.40" stroke="#8a8a8a" stroke-width="0.9" />
<line x1="47.50" y1="141.72" x2="50.70" y2="141.72" stroke="#a8a8a8" stroke-width="0.8" />
<line x1="47.50" y1="136.65" x2="50.70" y2="136.65" stroke="#a8a8a8" stroke-width="0.8" />
<line x1="47.50" y1="133.05" x2="50.70" y2="133.05" stroke="#a8a8a8" stroke-width="0.8" />
<line x1="47.50" y1="130.26" x2="50.70" y2="130.26" stroke="#a8a8a8" stroke-width="0.8" />
<line x1="47.50" y1="127.97" x2="50.70" y2="127.97" stroke="#a8a8a8" stroke-width="0.8" />
<line x1="47.50" y1="126.04" x2="50.70" y2="126.04" stroke="#a8a8a8" stroke-width="0.8" />
<line x1="47.50" y1="124.37" x2="50.70" y2="124.37" stroke="#a8a8a8" stroke-width="0.8" />
<line x1="47.50" y1="122.90" x2="50.70" y2="122.90" stroke="#a8a8a8" stroke-width="0.8" />
<line x1="47.50" y1="179.22" x2="53.00" y2="179.22" stroke="#8a8a8a" stroke-width="0.9" />
<line x1="47.50" y1="170.54" x2="50.70" y2="170.54" stroke="#a8a8a8" stroke-width="0.8" />
<line x1="47.50" y1="165.47" x2="50.70" y2="165.47" stroke="#a8a8a8" stroke-width="0.8" />
<line x1="47.50" y1="161.87" x2="50.70" y2="161.87" stroke="#a8a8a8" stroke-width="0.8" />
<line x1="47.50" y1="159.08" x2="50.70" y2="159.08" stroke="#a8a8a8" stroke-width="0.8" />
<line x1="47.50" y1="156.79" x2="50.70" y2="156.79" stroke="#a8a8a8" stroke-width="0.8" />
<line x1="47.50" y1="154.86" x2="50.70" y2="154.86" stroke="#a8a8a8" stroke-width="0.8" />
<line x1="47.50" y1="153.19" x2="50.70" y2="153.19" stroke="#a8a8a8" stroke-width="0.8" />
<line x1="47.50" y1="151.72" x2="50.70" y2="151.72" stroke="#a8a8a8" stroke-width="0.8" />
<line x1="546.30" y1="14.30" x2="540.80" y2="14.30" stroke="#8a8a8a" stroke-width="0.9" />
<line x1="546.30" y1="6.90" x2="543.10" y2="6.90" stroke="#a8a8a8" stroke-width="0.8" />
<line x1="546.30" y1="38.88" x2="540.80" y2="38.88" stroke="#8a8a8a" stroke-width="0.9" />
<line x1="546.30" y1="31.48" x2="543.10" y2="31.48" stroke="#a8a8a8" stroke-width="0.8" />
<line x1="546.30" y1="27.15" x2="543.10" y2="27.15" stroke="#a8a8a8" stroke-width="0.8" />
<line x1="546.30" y1="24.08" x2="543.10" y2="24.08" stroke="#a8a8a8" stroke-width="0.8" />
<line x1="546.30" y1="21.70" x2="543.10" y2="21.70" stroke="#a8a8a8" stroke-width="0.8" />
<line x1="546.30" y1="19.75" x2="543.10" y2="19.75" stroke="#a8a8a8" stroke-width="0.8" />
<line x1="546.30" y1="18.11" x2="543.10" y2="18.11" stroke="#a8a8a8" stroke-width="0.8" />
<line x1="546.30" y1="16.68" x2="543.10" y2="16.68" stroke="#a8a8a8" stroke-width="0.8" />
<line x1="546.30" y1="15.42" x2="543.10" y2="15.42" stroke="#a8a8a8" stroke-width="0.8" />
<line x1="546.30" y1="63.46" x2="540.80" y2="63.46" stroke="#8a8a8a" stroke-width="0.9" />
<line x1="546.30" y1="56.06" x2="543.10" y2="56.06" stroke="#a8a8a8" stroke-width="0.8" />
<line x1="546.30" y1="51.73" x2="543.10" y2="51.73" stroke="#a8a8a8" stroke-width="0.8" />
<line x1="546.30" y1="48.66" x2="543.10" y2="48.66" stroke="#a8a8a8" stroke-width="0.8" />
<line x1="546.30" y1="46.28" x2="543.10" y2="46.28" stroke="#a8a8a8" stroke-width="0.8" />
<line x1="546.30" y1="44.33" x2="543.10" y2="44.33" stroke="#a8a8a8" stroke-width="0.8" />
<line x1="546.30" y1="42.69" x2="543.10" y2="42.69" stroke="#a8a8a8" stroke-width="0.8" />
<line x1="546.30" y1="41.26" x2="543.10" y2="41.26" stroke="#a8a8a8" stroke-width="0.8" />
<line x1="546.30" y1="40.00" x2="543.10" y2="40.00" stroke="#a8a8a8" stroke-width="0.8" />
<line x1="546.30" y1="88.04" x2="540.80" y2="88.04" stroke="#8a8a8a" stroke-width="0.9" />
<line x1="546.30" y1="80.64" x2="543.10" y2="80.64" stroke="#a8a8a8" stroke-width="0.8" />
<line x1="546.30" y1="76.31" x2="543.10" y2="76.31" stroke="#a8a8a8" stroke-width="0.8" />
<line x1="546.30" y1="73.24" x2="543.10" y2="73.24" stroke="#a8a8a8" stroke-width="0.8" />
<line x1="546.30" y1="70.86" x2="543.10" y2="70.86" stroke="#a8a8a8" stroke-width="0.8" />
<line x1="546.30" y1="68.91" x2="543.10" y2="68.91" stroke="#a8a8a8" stroke-width="0.8" />
<line x1="546.30" y1="67.27" x2="543.10" y2="67.27" stroke="#a8a8a8" stroke-width="0.8" />
<line x1="546.30" y1="65.84" x2="543.10" y2="65.84" stroke="#a8a8a8" stroke-width="0.8" />
<line x1="546.30" y1="64.58" x2="543.10" y2="64.58" stroke="#a8a8a8" stroke-width="0.8" />
<line x1="546.30" y1="112.62" x2="540.80" y2="112.62" stroke="#8a8a8a" stroke-width="0.9" />
<line x1="546.30" y1="105.22" x2="543.10" y2="105.22" stroke="#a8a8a8" stroke-width="0.8" />
<line x1="546.30" y1="100.89" x2="543.10" y2="100.89" stroke="#a8a8a8" stroke-width="0.8" />
<line x1="546.30" y1="97.82" x2="543.10" y2="97.82" stroke="#a8a8a8" stroke-width="0.8" />
<line x1="546.30" y1="95.44" x2="543.10" y2="95.44" stroke="#a8a8a8" stroke-width="0.8" />
<line x1="546.30" y1="93.49" x2="543.10" y2="93.49" stroke="#a8a8a8" stroke-width="0.8" />
<line x1="546.30" y1="91.85" x2="543.10" y2="91.85" stroke="#a8a8a8" stroke-width="0.8" />
<line x1="546.30" y1="90.42" x2="543.10" y2="90.42" stroke="#a8a8a8" stroke-width="0.8" />
<line x1="546.30" y1="89.16" x2="543.10" y2="89.16" stroke="#a8a8a8" stroke-width="0.8" />
<line x1="546.30" y1="137.20" x2="540.80" y2="137.20" stroke="#8a8a8a" stroke-width="0.9" />
<line x1="546.30" y1="129.80" x2="543.10" y2="129.80" stroke="#a8a8a8" stroke-width="0.8" />
<line x1="546.30" y1="125.47" x2="543.10" y2="125.47" stroke="#a8a8a8" stroke-width="0.8" />
<line x1="546.30" y1="122.40" x2="543.10" y2="122.40" stroke="#a8a8a8" stroke-width="0.8" />
<line x1="546.30" y1="120.02" x2="543.10" y2="120.02" stroke="#a8a8a8" stroke-width="0.8" />
<line x1="546.30" y1="118.07" x2="543.10" y2="118.07" stroke="#a8a8a8" stroke-width="0.8" />
<line x1="546.30" y1="116.43" x2="543.10" y2="116.43" stroke="#a8a8a8" stroke-width="0.8" />
<line x1="546.30" y1="115.00" x2="543.10" y2="115.00" stroke="#a8a8a8" stroke-width="0.8" />
<line x1="546.30" y1="113.74" x2="543.10" y2="113.74" stroke="#a8a8a8" stroke-width="0.8" />
<line x1="546.30" y1="161.78" x2="540.80" y2="161.78" stroke="#8a8a8a" stroke-width="0.9" />
<line x1="546.30" y1="154.38" x2="543.10" y2="154.38" stroke="#a8a8a8" stroke-width="0.8" />
<line x1="546.30" y1="150.05" x2="543.10" y2="150.05" stroke="#a8a8a8" stroke-width="0.8" />
<line x1="546.30" y1="146.98" x2="543.10" y2="146.98" stroke="#a8a8a8" stroke-width="0.8" />
<line x1="546.30" y1="144.60" x2="543.10" y2="144.60" stroke="#a8a8a8" stroke-width="0.8" />
<line x1="546.30" y1="142.65" x2="543.10" y2="142.65" stroke="#a8a8a8" stroke-width="0.8" />
<line x1="546.30" y1="141.01" x2="543.10" y2="141.01" stroke="#a8a8a8" stroke-width="0.8" />
<line x1="546.30" y1="139.58" x2="543.10" y2="139.58" stroke="#a8a8a8" stroke-width="0.8" />
<line x1="546.30" y1="138.32" x2="543.10" y2="138.32" stroke="#a8a8a8" stroke-width="0.8" />
<line x1="546.30" y1="178.96" x2="543.10" y2="178.96" stroke="#a8a8a8" stroke-width="0.8" />
<line x1="546.30" y1="174.63" x2="543.10" y2="174.63" stroke="#a8a8a8" stroke-width="0.8" />
<line x1="546.30" y1="171.56" x2="543.10" y2="171.56" stroke="#a8a8a8" stroke-width="0.8" />
<line x1="546.30" y1="169.18" x2="543.10" y2="169.18" stroke="#a8a8a8" stroke-width="0.8" />
<line x1="546.30" y1="167.23" x2="543.10" y2="167.23" stroke="#a8a8a8" stroke-width="0.8" />
<line x1="546.30" y1="165.59" x2="543.10" y2="165.59" stroke="#a8a8a8" stroke-width="0.8" />
<line x1="546.30" y1="164.16" x2="543.10" y2="164.16" stroke="#a8a8a8" stroke-width="0.8" />
<line x1="546.30" y1="162.90" x2="543.10" y2="162.90" stroke="#a8a8a8" stroke-width="0.8" />
<line x1="47.50" y1="197.50" x2="53.00" y2="197.50" stroke="#8a8a8a" stroke-width="0.9" />
<line x1="47.50" y1="185.90" x2="50.70" y2="185.90" stroke="#a8a8a8" stroke-width="0.8" />
<line x1="47.50" y1="236.03" x2="53.00" y2="236.03" stroke="#8a8a8a" stroke-width="0.9" />
<line x1="47.50" y1="224.43" x2="50.70" y2="224.43" stroke="#a8a8a8" stroke-width="0.8" />
<line x1="47.50" y1="217.64" x2="50.70" y2="217.64" stroke="#a8a8a8" stroke-width="0.8" />
<line x1="47.50" y1="212.83" x2="50.70" y2="212.83" stroke="#a8a8a8" stroke-width="0.8" />
<line x1="47.50" y1="209.10" x2="50.70" y2="209.10" stroke="#a8a8a8" stroke-width="0.8" />
<line x1="47.50" y1="206.05" x2="50.70" y2="206.05" stroke="#a8a8a8" stroke-width="0.8" />
<line x1="47.50" y1="203.47" x2="50.70" y2="203.47" stroke="#a8a8a8" stroke-width="0.8" />
<line x1="47.50" y1="201.23" x2="50.70" y2="201.23" stroke="#a8a8a8" stroke-width="0.8" />
<line x1="47.50" y1="199.26" x2="50.70" y2="199.26" stroke="#a8a8a8" stroke-width="0.8" />
<line x1="47.50" y1="274.55" x2="53.00" y2="274.55" stroke="#8a8a8a" stroke-width="0.9" />
<line x1="47.50" y1="262.95" x2="50.70" y2="262.95" stroke="#a8a8a8" stroke-width="0.8" />
<line x1="47.50" y1="256.17" x2="50.70" y2="256.17" stroke="#a8a8a8" stroke-width="0.8" />
<line x1="47.50" y1="251.36" x2="50.70" y2="251.36" stroke="#a8a8a8" stroke-width="0.8" />
<line x1="47.50" y1="247.62" x2="50.70" y2="247.62" stroke="#a8a8a8" stroke-width="0.8" />
<line x1="47.50" y1="244.57" x2="50.70" y2="244.57" stroke="#a8a8a8" stroke-width="0.8" />
<line x1="47.50" y1="241.99" x2="50.70" y2="241.99" stroke="#a8a8a8" stroke-width="0.8" />
<line x1="47.50" y1="239.76" x2="50.70" y2="239.76" stroke="#a8a8a8" stroke-width="0.8" />
<line x1="47.50" y1="237.79" x2="50.70" y2="237.79" stroke="#a8a8a8" stroke-width="0.8" />
<line x1="47.50" y1="313.07" x2="53.00" y2="313.07" stroke="#8a8a8a" stroke-width="0.9" />
<line x1="47.50" y1="301.48" x2="50.70" y2="301.48" stroke="#a8a8a8" stroke-width="0.8" />
<line x1="47.50" y1="294.69" x2="50.70" y2="294.69" stroke="#a8a8a8" stroke-width="0.8" />
<line x1="47.50" y1="289.88" x2="50.70" y2="289.88" stroke="#a8a8a8" stroke-width="0.8" />
<line x1="47.50" y1="286.15" x2="50.70" y2="286.15" stroke="#a8a8a8" stroke-width="0.8" />
<line x1="47.50" y1="283.10" x2="50.70" y2="283.10" stroke="#a8a8a8" stroke-width="0.8" />
<line x1="47.50" y1="280.52" x2="50.70" y2="280.52" stroke="#a8a8a8" stroke-width="0.8" />
<line x1="47.50" y1="278.28" x2="50.70" y2="278.28" stroke="#a8a8a8" stroke-width="0.8" />
<line x1="47.50" y1="276.31" x2="50.70" y2="276.31" stroke="#a8a8a8" stroke-width="0.8" />
<line x1="47.50" y1="351.60" x2="53.00" y2="351.60" stroke="#8a8a8a" stroke-width="0.9" />
<line x1="47.50" y1="340.00" x2="50.70" y2="340.00" stroke="#a8a8a8" stroke-width="0.8" />
<line x1="47.50" y1="333.22" x2="50.70" y2="333.22" stroke="#a8a8a8" stroke-width="0.8" />
<line x1="47.50" y1="328.41" x2="50.70" y2="328.41" stroke="#a8a8a8" stroke-width="0.8" />
<line x1="47.50" y1="324.67" x2="50.70" y2="324.67" stroke="#a8a8a8" stroke-width="0.8" />
<line x1="47.50" y1="321.62" x2="50.70" y2="321.62" stroke="#a8a8a8" stroke-width="0.8" />
<line x1="47.50" y1="319.04" x2="50.70" y2="319.04" stroke="#a8a8a8" stroke-width="0.8" />
<line x1="47.50" y1="316.81" x2="50.70" y2="316.81" stroke="#a8a8a8" stroke-width="0.8" />
<line x1="47.50" y1="314.84" x2="50.70" y2="314.84" stroke="#a8a8a8" stroke-width="0.8" />
<path d="M47.5,6.3 H546.3 V351.6 H47.5 Z M47.5,179.2 H546.3" fill="none" stroke="#767676" stroke-width="1.3"/>
<line x1="546.30" y1="213.20" x2="540.80" y2="213.20" stroke="#e07070" stroke-width="0.9" />
<text x="548.29" y="216.80" font-size="11.2" fill="#d84040" stroke="#d84040" stroke-width="0.22" textLength="6.71" lengthAdjust="spacingAndGlyphs">2</text>
<line x1="546.30" y1="250.70" x2="540.80" y2="250.70" stroke="#e07070" stroke-width="0.9" />
<text x="548.46" y="254.30" font-size="11.2" fill="#d84040" stroke="#d84040" stroke-width="0.22" textLength="6.45" lengthAdjust="spacingAndGlyphs">3</text>
<line x1="546.30" y1="288.30" x2="540.80" y2="288.30" stroke="#e07070" stroke-width="0.9" />
<text x="548.65" y="291.90" font-size="11.2" fill="#d84040" stroke="#d84040" stroke-width="0.22" textLength="6.07" lengthAdjust="spacingAndGlyphs">4</text>
<line x1="546.30" y1="325.80" x2="540.80" y2="325.80" stroke="#e07070" stroke-width="0.9" />
<text x="548.44" y="329.40" font-size="11.2" fill="#d84040" stroke="#d84040" stroke-width="0.22" textLength="6.45" lengthAdjust="spacingAndGlyphs">5</text>
<text x="22.76" y="12.20" font-size="11.9" fill="#000" stroke="#000" stroke-width="0.22" textLength="13.72" lengthAdjust="spacingAndGlyphs">10</text>
<line x1="37.00" y1="3.70" x2="38.90" y2="3.70" stroke="#000" stroke-width="0.9" />
<text x="39.68" y="5.90" font-size="7.7" fill="#000" stroke="#000" stroke-width="0.06" textLength="4.64" lengthAdjust="spacingAndGlyphs">2</text>
<text x="22.76" y="41.02" font-size="11.9" fill="#000" stroke="#000" stroke-width="0.22" textLength="13.72" lengthAdjust="spacingAndGlyphs">10</text>
<line x1="37.00" y1="32.52" x2="38.90" y2="32.52" stroke="#000" stroke-width="0.9" />
<text x="39.79" y="34.72" font-size="7.7" fill="#000" stroke="#000" stroke-width="0.06" textLength="4.46" lengthAdjust="spacingAndGlyphs">3</text>
<text x="22.76" y="69.84" font-size="11.9" fill="#000" stroke="#000" stroke-width="0.22" textLength="13.72" lengthAdjust="spacingAndGlyphs">10</text>
<line x1="37.00" y1="61.34" x2="38.90" y2="61.34" stroke="#000" stroke-width="0.9" />
<text x="39.93" y="63.54" font-size="7.7" fill="#000" stroke="#000" stroke-width="0.06" textLength="4.19" lengthAdjust="spacingAndGlyphs">4</text>
<text x="22.76" y="98.66" font-size="11.9" fill="#000" stroke="#000" stroke-width="0.22" textLength="13.72" lengthAdjust="spacingAndGlyphs">10</text>
<line x1="37.00" y1="90.16" x2="38.90" y2="90.16" stroke="#000" stroke-width="0.9" />
<text x="39.78" y="92.36" font-size="7.7" fill="#000" stroke="#000" stroke-width="0.06" textLength="4.46" lengthAdjust="spacingAndGlyphs">5</text>
<text x="22.76" y="127.48" font-size="11.9" fill="#000" stroke="#000" stroke-width="0.22" textLength="13.72" lengthAdjust="spacingAndGlyphs">10</text>
<line x1="37.00" y1="118.98" x2="38.90" y2="118.98" stroke="#000" stroke-width="0.9" />
<text x="39.68" y="121.18" font-size="7.7" fill="#000" stroke="#000" stroke-width="0.06" textLength="4.58" lengthAdjust="spacingAndGlyphs">6</text>
<text x="22.76" y="156.30" font-size="11.9" fill="#000" stroke="#000" stroke-width="0.22" textLength="13.72" lengthAdjust="spacingAndGlyphs">10</text>
<line x1="37.00" y1="147.80" x2="38.90" y2="147.80" stroke="#000" stroke-width="0.9" />
<text x="39.67" y="150.00" font-size="7.7" fill="#000" stroke="#000" stroke-width="0.06" textLength="4.65" lengthAdjust="spacingAndGlyphs">7</text>
<text x="22.76" y="185.12" font-size="11.9" fill="#000" stroke="#000" stroke-width="0.22" textLength="13.72" lengthAdjust="spacingAndGlyphs">10</text>
<line x1="37.00" y1="176.62" x2="38.90" y2="176.62" stroke="#000" stroke-width="0.9" />
<text x="39.75" y="178.82" font-size="7.7" fill="#000" stroke="#000" stroke-width="0.06" textLength="4.50" lengthAdjust="spacingAndGlyphs">8</text>
<text x="22.76" y="203.40" font-size="11.9" fill="#000" stroke="#000" stroke-width="0.22" textLength="13.72" lengthAdjust="spacingAndGlyphs">10</text>
<line x1="37.00" y1="194.90" x2="38.90" y2="194.90" stroke="#000" stroke-width="0.9" />
<text x="39.68" y="197.10" font-size="7.7" fill="#000" stroke="#000" stroke-width="0.06" textLength="4.58" lengthAdjust="spacingAndGlyphs">6</text>
<text x="22.76" y="241.93" font-size="11.9" fill="#000" stroke="#000" stroke-width="0.22" textLength="13.72" lengthAdjust="spacingAndGlyphs">10</text>
<line x1="37.00" y1="233.43" x2="38.90" y2="233.43" stroke="#000" stroke-width="0.9" />
<text x="39.67" y="235.62" font-size="7.7" fill="#000" stroke="#000" stroke-width="0.06" textLength="4.65" lengthAdjust="spacingAndGlyphs">7</text>
<text x="22.76" y="280.45" font-size="11.9" fill="#000" stroke="#000" stroke-width="0.22" textLength="13.72" lengthAdjust="spacingAndGlyphs">10</text>
<line x1="37.00" y1="271.95" x2="38.90" y2="271.95" stroke="#000" stroke-width="0.9" />
<text x="39.75" y="274.15" font-size="7.7" fill="#000" stroke="#000" stroke-width="0.06" textLength="4.50" lengthAdjust="spacingAndGlyphs">8</text>
<text x="22.76" y="318.97" font-size="11.9" fill="#000" stroke="#000" stroke-width="0.22" textLength="13.72" lengthAdjust="spacingAndGlyphs">10</text>
<line x1="37.00" y1="310.47" x2="38.90" y2="310.47" stroke="#000" stroke-width="0.9" />
<text x="39.71" y="312.68" font-size="7.7" fill="#000" stroke="#000" stroke-width="0.06" textLength="4.58" lengthAdjust="spacingAndGlyphs">9</text>
<text x="17.66" y="357.50" font-size="11.9" fill="#000" stroke="#000" stroke-width="0.22" textLength="13.72" lengthAdjust="spacingAndGlyphs">10</text>
<line x1="31.90" y1="349.00" x2="34.10" y2="349.00" stroke="#000" stroke-width="0.9" />
<text x="34.46" y="351.20" font-size="7.7" fill="#000" stroke="#000" stroke-width="0.06" textLength="9.37" lengthAdjust="spacingAndGlyphs">10</text>
<text x="549.17" y="20.20" font-size="11.9" fill="#000" stroke="#000" stroke-width="0.22" textLength="13.61" lengthAdjust="spacingAndGlyphs">10</text>
<text x="563.59" y="13.90" font-size="7.7" fill="#000" stroke="#000" stroke-width="0.06" textLength="4.34" lengthAdjust="spacingAndGlyphs">5</text>
<text x="549.17" y="44.78" font-size="11.9" fill="#000" stroke="#000" stroke-width="0.22" textLength="13.61" lengthAdjust="spacingAndGlyphs">10</text>
<text x="563.73" y="38.48" font-size="7.7" fill="#000" stroke="#000" stroke-width="0.06" textLength="4.08" lengthAdjust="spacingAndGlyphs">4</text>
<text x="549.17" y="69.36" font-size="11.9" fill="#000" stroke="#000" stroke-width="0.22" textLength="13.61" lengthAdjust="spacingAndGlyphs">10</text>
<text x="563.60" y="63.06" font-size="7.7" fill="#000" stroke="#000" stroke-width="0.06" textLength="4.34" lengthAdjust="spacingAndGlyphs">3</text>
<text x="549.17" y="93.94" font-size="11.9" fill="#000" stroke="#000" stroke-width="0.22" textLength="13.61" lengthAdjust="spacingAndGlyphs">10</text>
<text x="563.49" y="87.64" font-size="7.7" fill="#000" stroke="#000" stroke-width="0.06" textLength="4.52" lengthAdjust="spacingAndGlyphs">2</text>
<text x="549.17" y="118.52" font-size="11.9" fill="#000" stroke="#000" stroke-width="0.22" textLength="13.61" lengthAdjust="spacingAndGlyphs">10</text>
<text x="563.25" y="112.22" font-size="7.7" fill="#000" stroke="#000" stroke-width="0.06" textLength="4.77" lengthAdjust="spacingAndGlyphs">1</text>
<text x="549.17" y="143.10" font-size="11.9" fill="#000" stroke="#000" stroke-width="0.22" textLength="13.61" lengthAdjust="spacingAndGlyphs">10</text>
<text x="563.60" y="136.80" font-size="7.7" fill="#000" stroke="#000" stroke-width="0.06" textLength="4.30" lengthAdjust="spacingAndGlyphs">0</text>
<text x="549.17" y="167.68" font-size="11.9" fill="#000" stroke="#000" stroke-width="0.22" textLength="13.61" lengthAdjust="spacingAndGlyphs">10</text>
<line x1="563.60" y1="159.28" x2="565.40" y2="159.28" stroke="#000" stroke-width="0.9" />
<text x="566.54" y="161.38" font-size="7.7" fill="#000" stroke="#000" stroke-width="0.06" textLength="3.35" lengthAdjust="spacingAndGlyphs">1</text>
<text x="42.66" y="362.90" font-size="11.4" fill="#000" stroke="#000" stroke-width="0.22" textLength="31.28" lengthAdjust="spacingAndGlyphs">00:00</text>
<text x="101.31" y="362.90" font-size="11.4" fill="#000" stroke="#000" stroke-width="0.22" textLength="31.28" lengthAdjust="spacingAndGlyphs">03:00</text>
<text x="159.96" y="362.90" font-size="11.4" fill="#000" stroke="#000" stroke-width="0.22" textLength="31.28" lengthAdjust="spacingAndGlyphs">06:00</text>
<text x="218.61" y="362.90" font-size="11.4" fill="#000" stroke="#000" stroke-width="0.22" textLength="31.28" lengthAdjust="spacingAndGlyphs">09:00</text>
<text x="276.78" y="362.90" font-size="11.4" fill="#000" stroke="#000" stroke-width="0.22" textLength="31.76" lengthAdjust="spacingAndGlyphs">12:00</text>
<text x="335.43" y="362.90" font-size="11.4" fill="#000" stroke="#000" stroke-width="0.22" textLength="31.76" lengthAdjust="spacingAndGlyphs">15:00</text>
<text x="394.08" y="362.90" font-size="11.4" fill="#000" stroke="#000" stroke-width="0.22" textLength="31.76" lengthAdjust="spacingAndGlyphs">18:00</text>
<text x="453.07" y="362.90" font-size="11.4" fill="#000" stroke="#000" stroke-width="0.22" textLength="31.42" lengthAdjust="spacingAndGlyphs">21:00</text>
<text x="511.86" y="362.90" font-size="11.4" fill="#000" stroke="#000" stroke-width="0.22" textLength="31.28" lengthAdjust="spacingAndGlyphs">00:00</text>
<text x="55.18" y="373.80" font-size="11.0" fill="#000" stroke="#000" stroke-width="0.22" textLength="86.40" lengthAdjust="spacingAndGlyphs">2012-03-07, UT</text>
<text transform="translate(14.70,0) rotate(-90)" x="-149.10" y="0" font-size="11.3" fill="#000" stroke="#000" stroke-width="0.22" textLength="97.49" lengthAdjust="spacingAndGlyphs">GOES X-ray [W m</text>
<line x1="8.00" y1="50.60" x2="8.00" y2="47.20" stroke="#000" stroke-width="0.9" />
<text transform="translate(9.40,0) rotate(-90)" x="-46.31" y="0" font-size="7.2" fill="#000" stroke="#000" stroke-width="0.06" textLength="3.42" lengthAdjust="spacingAndGlyphs">2</text>
<text transform="translate(14.70,0) rotate(-90)" x="-39.11" y="0" font-size="11.3" fill="#000" stroke="#000" stroke-width="0.22" textLength="3.91" lengthAdjust="spacingAndGlyphs">]</text>
<text transform="translate(10.30,0) rotate(-90)" x="-332.45" y="0" font-size="11.3" fill="#000" stroke="#000" stroke-width="0.22" textLength="102.43" lengthAdjust="spacingAndGlyphs">γ-ray flux [erg cm</text>
<line x1="3.60" y1="229.00" x2="3.60" y2="225.20" stroke="#000" stroke-width="0.9" />
<text transform="translate(5.00,0) rotate(-90)" x="-224.53" y="0" font-size="7.2" fill="#000" stroke="#000" stroke-width="0.06" textLength="3.66" lengthAdjust="spacingAndGlyphs">2</text>
<text transform="translate(10.30,0) rotate(-90)" x="-217.45" y="0" font-size="11.3" fill="#000" stroke="#000" stroke-width="0.22" textLength="6.31" lengthAdjust="spacingAndGlyphs">s</text>
<line x1="3.60" y1="210.40" x2="3.60" y2="206.60" stroke="#000" stroke-width="0.9" />
<text transform="translate(5.00,0) rotate(-90)" x="-206.42" y="0" font-size="7.2" fill="#000" stroke="#000" stroke-width="0.06" textLength="3.10" lengthAdjust="spacingAndGlyphs">1</text>
<text transform="translate(10.30,0) rotate(-90)" x="-201.52" y="0" font-size="11.3" fill="#000" stroke="#000" stroke-width="0.22" textLength="4.19" lengthAdjust="spacingAndGlyphs">]</text>
<text transform="translate(582.60,0) rotate(-90)" x="-165.62" y="0" font-size="11.3" fill="#000" stroke="#000" stroke-width="0.22" textLength="145.56" lengthAdjust="spacingAndGlyphs">GOES average proton flux</text>
<text transform="translate(597.00,0) rotate(-90)" x="-134.21" y="0" font-size="11.3" fill="#000" stroke="#000" stroke-width="0.22" textLength="22.74" lengthAdjust="spacingAndGlyphs">[cm</text>
<line x1="590.30" y1="110.90" x2="590.30" y2="107.10" stroke="#000" stroke-width="0.9" />
<text transform="translate(591.70,0) rotate(-90)" x="-105.36" y="0" font-size="7.2" fill="#000" stroke="#000" stroke-width="0.06" textLength="4.03" lengthAdjust="spacingAndGlyphs">2</text>
<text transform="translate(597.00,0) rotate(-90)" x="-97.38" y="0" font-size="11.3" fill="#000" stroke="#000" stroke-width="0.22" textLength="6.77" lengthAdjust="spacingAndGlyphs">s</text>
<line x1="590.30" y1="89.00" x2="590.30" y2="85.20" stroke="#000" stroke-width="0.9" />
<text transform="translate(591.70,0) rotate(-90)" x="-85.02" y="0" font-size="7.2" fill="#000" stroke="#000" stroke-width="0.06" textLength="3.10" lengthAdjust="spacingAndGlyphs">1</text>
<text transform="translate(597.00,0) rotate(-90)" x="-75.59" y="0" font-size="11.3" fill="#000" stroke="#000" stroke-width="0.22" textLength="11.73" lengthAdjust="spacingAndGlyphs">sr</text>
<line x1="590.30" y1="62.60" x2="590.30" y2="58.80" stroke="#000" stroke-width="0.9" />
<text transform="translate(591.70,0) rotate(-90)" x="-58.62" y="0" font-size="7.2" fill="#000" stroke="#000" stroke-width="0.06" textLength="3.10" lengthAdjust="spacingAndGlyphs">1</text>
<text transform="translate(597.00,0) rotate(-90)" x="-51.49" y="0" font-size="11.3" fill="#000" stroke="#000" stroke-width="0.22" textLength="3.08" lengthAdjust="spacingAndGlyphs">]</text>
<text transform="translate(566.60,0) rotate(-90)" x="-306.03" y="0" font-size="11.3" fill="#000" stroke="#000" stroke-width="0.22" textLength="80.39" lengthAdjust="spacingAndGlyphs">Proton index s</text>
</svg></body></html>
